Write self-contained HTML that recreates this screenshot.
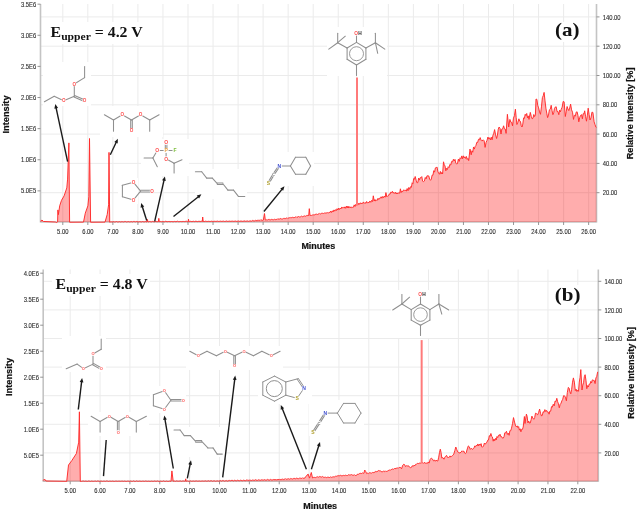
<!DOCTYPE html><html><head><meta charset="utf-8"><style>html,body{margin:0;padding:0;background:#fff;}body{width:637px;height:510px;overflow:hidden;}svg{display:block;filter:blur(0.3px);}</style></head><body>
<svg width="637" height="510" viewBox="0 0 637 510">
<rect width="637" height="510" fill="white"/>
<g stroke="#ebebeb" stroke-width="1.0"><line x1="62.80" y1="4.00" x2="62.80" y2="222.00"/><line x1="87.84" y1="4.00" x2="87.84" y2="222.00"/><line x1="112.88" y1="4.00" x2="112.88" y2="222.00"/><line x1="137.92" y1="4.00" x2="137.92" y2="222.00"/><line x1="162.96" y1="4.00" x2="162.96" y2="222.00"/><line x1="188.00" y1="4.00" x2="188.00" y2="222.00"/><line x1="213.04" y1="4.00" x2="213.04" y2="222.00"/><line x1="238.08" y1="4.00" x2="238.08" y2="222.00"/><line x1="263.12" y1="4.00" x2="263.12" y2="222.00"/><line x1="288.16" y1="4.00" x2="288.16" y2="222.00"/><line x1="313.20" y1="4.00" x2="313.20" y2="222.00"/><line x1="338.24" y1="4.00" x2="338.24" y2="222.00"/><line x1="363.28" y1="4.00" x2="363.28" y2="222.00"/><line x1="388.32" y1="4.00" x2="388.32" y2="222.00"/><line x1="413.36" y1="4.00" x2="413.36" y2="222.00"/><line x1="438.40" y1="4.00" x2="438.40" y2="222.00"/><line x1="463.44" y1="4.00" x2="463.44" y2="222.00"/><line x1="488.48" y1="4.00" x2="488.48" y2="222.00"/><line x1="513.52" y1="4.00" x2="513.52" y2="222.00"/><line x1="538.56" y1="4.00" x2="538.56" y2="222.00"/><line x1="563.60" y1="4.00" x2="563.60" y2="222.00"/><line x1="588.64" y1="4.00" x2="588.64" y2="222.00"/><line x1="40.50" y1="192.70" x2="596.50" y2="192.70"/><line x1="40.50" y1="163.40" x2="596.50" y2="163.40"/><line x1="40.50" y1="134.10" x2="596.50" y2="134.10"/><line x1="40.50" y1="104.80" x2="596.50" y2="104.80"/><line x1="40.50" y1="75.50" x2="596.50" y2="75.50"/><line x1="40.50" y1="46.20" x2="596.50" y2="46.20"/><line x1="40.50" y1="16.90" x2="596.50" y2="16.90"/></g>
<g stroke="#ebebeb" stroke-width="1.0"><line x1="70.20" y1="269.50" x2="70.20" y2="481.30"/><line x1="100.06" y1="269.50" x2="100.06" y2="481.30"/><line x1="129.92" y1="269.50" x2="129.92" y2="481.30"/><line x1="159.78" y1="269.50" x2="159.78" y2="481.30"/><line x1="189.64" y1="269.50" x2="189.64" y2="481.30"/><line x1="219.50" y1="269.50" x2="219.50" y2="481.30"/><line x1="249.36" y1="269.50" x2="249.36" y2="481.30"/><line x1="279.22" y1="269.50" x2="279.22" y2="481.30"/><line x1="309.08" y1="269.50" x2="309.08" y2="481.30"/><line x1="338.94" y1="269.50" x2="338.94" y2="481.30"/><line x1="368.80" y1="269.50" x2="368.80" y2="481.30"/><line x1="398.66" y1="269.50" x2="398.66" y2="481.30"/><line x1="428.52" y1="269.50" x2="428.52" y2="481.30"/><line x1="458.38" y1="269.50" x2="458.38" y2="481.30"/><line x1="488.24" y1="269.50" x2="488.24" y2="481.30"/><line x1="518.10" y1="269.50" x2="518.10" y2="481.30"/><line x1="547.96" y1="269.50" x2="547.96" y2="481.30"/><line x1="577.82" y1="269.50" x2="577.82" y2="481.30"/><line x1="43.20" y1="452.90" x2="598.30" y2="452.90"/><line x1="43.20" y1="424.30" x2="598.30" y2="424.30"/><line x1="43.20" y1="395.70" x2="598.30" y2="395.70"/><line x1="43.20" y1="367.10" x2="598.30" y2="367.10"/><line x1="43.20" y1="338.50" x2="598.30" y2="338.50"/><line x1="43.20" y1="309.90" x2="598.30" y2="309.90"/><line x1="43.20" y1="281.30" x2="598.30" y2="281.30"/></g>
<rect x="43.0" y="62.0" width="48.0" height="44.0" fill="white"/>
<rect x="100.0" y="106.0" width="63.0" height="31.0" fill="white"/>
<rect x="118.0" y="178.0" width="20.0" height="26.0" fill="white"/>
<rect x="141.0" y="139.0" width="48.0" height="37.0" fill="white"/>
<rect x="195.0" y="169.0" width="52.0" height="30.0" fill="white"/>
<rect x="264.0" y="152.0" width="50.0" height="34.0" fill="white"/>
<rect x="327.0" y="27.0" width="60.0" height="49.0" fill="white"/>
<rect x="48.0" y="22.0" width="96.0" height="22.0" fill="white"/>
<rect x="552.0" y="22.0" width="30.0" height="20.0" fill="white"/>
<rect x="62.0" y="336.0" width="44.0" height="36.0" fill="white"/>
<rect x="88.0" y="412.0" width="61.0" height="24.0" fill="white"/>
<rect x="150.0" y="386.0" width="36.0" height="27.0" fill="white"/>
<rect x="170.0" y="427.0" width="55.0" height="30.0" fill="white"/>
<rect x="186.0" y="346.0" width="97.0" height="24.0" fill="white"/>
<rect x="258.0" y="370.0" width="54.0" height="34.0" fill="white"/>
<rect x="309.0" y="400.0" width="55.0" height="36.0" fill="white"/>
<rect x="391.0" y="290.0" width="59.0" height="48.0" fill="white"/>
<rect x="52.0" y="274.0" width="98.0" height="22.0" fill="white"/>
<rect x="552.0" y="285.0" width="30.0" height="20.0" fill="white"/>
<g stroke="#c4c4c4" stroke-width="1.6"><line x1="40.50" y1="4.00" x2="40.50" y2="222.50"/><line x1="596.50" y1="4.00" x2="596.50" y2="222.50"/><line x1="40.50" y1="222.00" x2="596.50" y2="222.00"/></g><g stroke="#8a8a8a" stroke-width="0.9"><line x1="37.50" y1="190.88" x2="40.50" y2="190.88"/><line x1="37.50" y1="159.76" x2="40.50" y2="159.76"/><line x1="37.50" y1="128.64" x2="40.50" y2="128.64"/><line x1="37.50" y1="97.52" x2="40.50" y2="97.52"/><line x1="37.50" y1="66.40" x2="40.50" y2="66.40"/><line x1="37.50" y1="35.28" x2="40.50" y2="35.28"/><line x1="37.50" y1="4.16" x2="40.50" y2="4.16"/><line x1="596.50" y1="192.70" x2="599.50" y2="192.70"/><line x1="596.50" y1="163.40" x2="599.50" y2="163.40"/><line x1="596.50" y1="134.10" x2="599.50" y2="134.10"/><line x1="596.50" y1="104.80" x2="599.50" y2="104.80"/><line x1="596.50" y1="75.50" x2="599.50" y2="75.50"/><line x1="596.50" y1="46.20" x2="599.50" y2="46.20"/><line x1="596.50" y1="16.90" x2="599.50" y2="16.90"/><line x1="62.80" y1="222.00" x2="62.80" y2="225.00"/><line x1="87.84" y1="222.00" x2="87.84" y2="225.00"/><line x1="112.88" y1="222.00" x2="112.88" y2="225.00"/><line x1="137.92" y1="222.00" x2="137.92" y2="225.00"/><line x1="162.96" y1="222.00" x2="162.96" y2="225.00"/><line x1="188.00" y1="222.00" x2="188.00" y2="225.00"/><line x1="213.04" y1="222.00" x2="213.04" y2="225.00"/><line x1="238.08" y1="222.00" x2="238.08" y2="225.00"/><line x1="263.12" y1="222.00" x2="263.12" y2="225.00"/><line x1="288.16" y1="222.00" x2="288.16" y2="225.00"/><line x1="313.20" y1="222.00" x2="313.20" y2="225.00"/><line x1="338.24" y1="222.00" x2="338.24" y2="225.00"/><line x1="363.28" y1="222.00" x2="363.28" y2="225.00"/><line x1="388.32" y1="222.00" x2="388.32" y2="225.00"/><line x1="413.36" y1="222.00" x2="413.36" y2="225.00"/><line x1="438.40" y1="222.00" x2="438.40" y2="225.00"/><line x1="463.44" y1="222.00" x2="463.44" y2="225.00"/><line x1="488.48" y1="222.00" x2="488.48" y2="225.00"/><line x1="513.52" y1="222.00" x2="513.52" y2="225.00"/><line x1="538.56" y1="222.00" x2="538.56" y2="225.00"/><line x1="563.60" y1="222.00" x2="563.60" y2="225.00"/><line x1="588.64" y1="222.00" x2="588.64" y2="225.00"/></g><g font-family='"Liberation Sans", sans-serif' font-size="7.3" fill="#2e2e2e" stroke="#2e2e2e" stroke-width="0.12"><text transform="translate(36.20,193.48) scale(0.80,1)" text-anchor="end">5.0E5</text><text transform="translate(36.20,162.36) scale(0.80,1)" text-anchor="end">1.0E6</text><text transform="translate(36.20,131.24) scale(0.80,1)" text-anchor="end">1.5E6</text><text transform="translate(36.20,100.12) scale(0.80,1)" text-anchor="end">2.0E6</text><text transform="translate(36.20,69.00) scale(0.80,1)" text-anchor="end">2.5E6</text><text transform="translate(36.20,37.88) scale(0.80,1)" text-anchor="end">3.0E6</text><text transform="translate(36.20,6.76) scale(0.80,1)" text-anchor="end">3.5E6</text><text transform="translate(602.70,195.30) scale(0.80,1)">20.00</text><text transform="translate(602.70,166.00) scale(0.80,1)">40.00</text><text transform="translate(602.70,136.70) scale(0.80,1)">60.00</text><text transform="translate(602.70,107.40) scale(0.80,1)">80.00</text><text transform="translate(602.70,78.10) scale(0.80,1)">100.00</text><text transform="translate(602.70,48.80) scale(0.80,1)">120.00</text><text transform="translate(602.70,19.50) scale(0.80,1)">140.00</text><text transform="translate(62.80,233.60) scale(0.80,1)" text-anchor="middle">5.00</text><text transform="translate(87.84,233.60) scale(0.80,1)" text-anchor="middle">6.00</text><text transform="translate(112.88,233.60) scale(0.80,1)" text-anchor="middle">7.00</text><text transform="translate(137.92,233.60) scale(0.80,1)" text-anchor="middle">8.00</text><text transform="translate(162.96,233.60) scale(0.80,1)" text-anchor="middle">9.00</text><text transform="translate(188.00,233.60) scale(0.80,1)" text-anchor="middle">10.00</text><text transform="translate(213.04,233.60) scale(0.80,1)" text-anchor="middle">11.00</text><text transform="translate(238.08,233.60) scale(0.80,1)" text-anchor="middle">12.00</text><text transform="translate(263.12,233.60) scale(0.80,1)" text-anchor="middle">13.00</text><text transform="translate(288.16,233.60) scale(0.80,1)" text-anchor="middle">14.00</text><text transform="translate(313.20,233.60) scale(0.80,1)" text-anchor="middle">15.00</text><text transform="translate(338.24,233.60) scale(0.80,1)" text-anchor="middle">16.00</text><text transform="translate(363.28,233.60) scale(0.80,1)" text-anchor="middle">17.00</text><text transform="translate(388.32,233.60) scale(0.80,1)" text-anchor="middle">18.00</text><text transform="translate(413.36,233.60) scale(0.80,1)" text-anchor="middle">19.00</text><text transform="translate(438.40,233.60) scale(0.80,1)" text-anchor="middle">20.00</text><text transform="translate(463.44,233.60) scale(0.80,1)" text-anchor="middle">21.00</text><text transform="translate(488.48,233.60) scale(0.80,1)" text-anchor="middle">22.00</text><text transform="translate(513.52,233.60) scale(0.80,1)" text-anchor="middle">23.00</text><text transform="translate(538.56,233.60) scale(0.80,1)" text-anchor="middle">24.00</text><text transform="translate(563.60,233.60) scale(0.80,1)" text-anchor="middle">25.00</text><text transform="translate(588.64,233.60) scale(0.80,1)" text-anchor="middle">26.00</text></g>
<g stroke="#c4c4c4" stroke-width="1.6"><line x1="43.20" y1="269.50" x2="43.20" y2="481.80"/><line x1="598.30" y1="269.50" x2="598.30" y2="481.80"/><line x1="43.20" y1="481.30" x2="598.30" y2="481.30"/></g><g stroke="#8a8a8a" stroke-width="0.9"><line x1="40.20" y1="455.20" x2="43.20" y2="455.20"/><line x1="40.20" y1="429.20" x2="43.20" y2="429.20"/><line x1="40.20" y1="403.20" x2="43.20" y2="403.20"/><line x1="40.20" y1="377.20" x2="43.20" y2="377.20"/><line x1="40.20" y1="351.20" x2="43.20" y2="351.20"/><line x1="40.20" y1="325.20" x2="43.20" y2="325.20"/><line x1="40.20" y1="299.20" x2="43.20" y2="299.20"/><line x1="40.20" y1="273.20" x2="43.20" y2="273.20"/><line x1="598.30" y1="452.90" x2="601.30" y2="452.90"/><line x1="598.30" y1="424.30" x2="601.30" y2="424.30"/><line x1="598.30" y1="395.70" x2="601.30" y2="395.70"/><line x1="598.30" y1="367.10" x2="601.30" y2="367.10"/><line x1="598.30" y1="338.50" x2="601.30" y2="338.50"/><line x1="598.30" y1="309.90" x2="601.30" y2="309.90"/><line x1="598.30" y1="281.30" x2="601.30" y2="281.30"/><line x1="70.20" y1="481.30" x2="70.20" y2="484.30"/><line x1="100.06" y1="481.30" x2="100.06" y2="484.30"/><line x1="129.92" y1="481.30" x2="129.92" y2="484.30"/><line x1="159.78" y1="481.30" x2="159.78" y2="484.30"/><line x1="189.64" y1="481.30" x2="189.64" y2="484.30"/><line x1="219.50" y1="481.30" x2="219.50" y2="484.30"/><line x1="249.36" y1="481.30" x2="249.36" y2="484.30"/><line x1="279.22" y1="481.30" x2="279.22" y2="484.30"/><line x1="309.08" y1="481.30" x2="309.08" y2="484.30"/><line x1="338.94" y1="481.30" x2="338.94" y2="484.30"/><line x1="368.80" y1="481.30" x2="368.80" y2="484.30"/><line x1="398.66" y1="481.30" x2="398.66" y2="484.30"/><line x1="428.52" y1="481.30" x2="428.52" y2="484.30"/><line x1="458.38" y1="481.30" x2="458.38" y2="484.30"/><line x1="488.24" y1="481.30" x2="488.24" y2="484.30"/><line x1="518.10" y1="481.30" x2="518.10" y2="484.30"/><line x1="547.96" y1="481.30" x2="547.96" y2="484.30"/><line x1="577.82" y1="481.30" x2="577.82" y2="484.30"/></g><g font-family='"Liberation Sans", sans-serif' font-size="7.3" fill="#2e2e2e" stroke="#2e2e2e" stroke-width="0.12"><text transform="translate(38.90,457.80) scale(0.80,1)" text-anchor="end">5.0E5</text><text transform="translate(38.90,431.80) scale(0.80,1)" text-anchor="end">1.0E6</text><text transform="translate(38.90,405.80) scale(0.80,1)" text-anchor="end">1.5E6</text><text transform="translate(38.90,379.80) scale(0.80,1)" text-anchor="end">2.0E6</text><text transform="translate(38.90,353.80) scale(0.80,1)" text-anchor="end">2.5E6</text><text transform="translate(38.90,327.80) scale(0.80,1)" text-anchor="end">3.0E6</text><text transform="translate(38.90,301.80) scale(0.80,1)" text-anchor="end">3.5E6</text><text transform="translate(38.90,275.80) scale(0.80,1)" text-anchor="end">4.0E6</text><text transform="translate(604.50,455.50) scale(0.80,1)">20.00</text><text transform="translate(604.50,426.90) scale(0.80,1)">40.00</text><text transform="translate(604.50,398.30) scale(0.80,1)">60.00</text><text transform="translate(604.50,369.70) scale(0.80,1)">80.00</text><text transform="translate(604.50,341.10) scale(0.80,1)">100.00</text><text transform="translate(604.50,312.50) scale(0.80,1)">120.00</text><text transform="translate(604.50,283.90) scale(0.80,1)">140.00</text><text transform="translate(70.20,492.90) scale(0.80,1)" text-anchor="middle">5.00</text><text transform="translate(100.06,492.90) scale(0.80,1)" text-anchor="middle">6.00</text><text transform="translate(129.92,492.90) scale(0.80,1)" text-anchor="middle">7.00</text><text transform="translate(159.78,492.90) scale(0.80,1)" text-anchor="middle">8.00</text><text transform="translate(189.64,492.90) scale(0.80,1)" text-anchor="middle">9.00</text><text transform="translate(219.50,492.90) scale(0.80,1)" text-anchor="middle">10.00</text><text transform="translate(249.36,492.90) scale(0.80,1)" text-anchor="middle">11.00</text><text transform="translate(279.22,492.90) scale(0.80,1)" text-anchor="middle">12.00</text><text transform="translate(309.08,492.90) scale(0.80,1)" text-anchor="middle">13.00</text><text transform="translate(338.94,492.90) scale(0.80,1)" text-anchor="middle">14.00</text><text transform="translate(368.80,492.90) scale(0.80,1)" text-anchor="middle">15.00</text><text transform="translate(398.66,492.90) scale(0.80,1)" text-anchor="middle">16.00</text><text transform="translate(428.52,492.90) scale(0.80,1)" text-anchor="middle">17.00</text><text transform="translate(458.38,492.90) scale(0.80,1)" text-anchor="middle">18.00</text><text transform="translate(488.24,492.90) scale(0.80,1)" text-anchor="middle">19.00</text><text transform="translate(518.10,492.90) scale(0.80,1)" text-anchor="middle">20.00</text><text transform="translate(547.96,492.90) scale(0.80,1)" text-anchor="middle">21.00</text><text transform="translate(577.82,492.90) scale(0.80,1)" text-anchor="middle">22.00</text></g>
<path d="M40.50,222.00 L40.50,221.17 L42.00,220.02 L43.50,221.48 L55.30,222.00 L56.50,222.53 L57.60,221.90 L57.90,209.91 L58.40,214.60 L59.70,205.84 L61.50,200.31 L64.10,195.90 L66.80,187.90 L67.60,179.10 L68.20,161.50 L68.90,142.90 L69.60,222.21 L83.50,222.11 L85.30,213.14 L87.90,205.84 L88.80,196.80 L89.50,138.50 L90.60,222.21 L105.00,222.11 L107.20,214.60 L108.60,204.80 L109.00,152.40 L109.70,222.21 L110.50,221.90 L111.26,221.94 L112.02,221.63 L112.78,221.95 L113.54,221.61 L114.30,221.98 L115.06,221.75 L115.82,221.91 L116.58,221.54 L117.34,221.93 L118.10,221.70 L118.86,222.00 L119.62,221.63 L120.39,221.98 L121.15,221.62 L121.91,221.95 L122.67,221.71 L123.43,221.95 L124.19,221.51 L124.95,221.93 L125.71,221.54 L126.47,221.95 L127.23,221.72 L127.99,221.95 L128.75,221.57 L129.51,221.90 L130.27,221.72 L131.03,221.95 L131.79,221.59 L132.55,221.93 L133.31,221.48 L134.07,221.93 L134.83,221.46 L135.59,221.89 L136.35,221.49 L137.11,221.89 L137.88,221.45 L138.64,221.93 L139.40,221.67 L140.16,221.85 L140.92,221.64 L141.68,221.93 L142.44,221.57 L143.20,221.89 L143.96,221.60 L144.72,221.88 L145.48,221.58 L146.24,221.86 L147.00,221.80 L147.40,219.40 L147.90,221.80 L148.65,221.87 L149.40,221.50 L150.15,221.89 L150.90,221.46 L151.65,221.88 L152.40,221.40 L153.15,221.87 L153.90,221.44 L154.65,221.77 L155.40,221.37 L156.15,221.84 L156.90,221.34 L157.65,221.78 L158.40,221.69 L158.80,218.35 L159.30,221.69 L160.06,221.78 L160.82,221.51 L161.58,221.79 L162.34,221.41 L163.10,221.73 L163.86,221.54 L164.62,221.78 L165.38,221.28 L166.14,221.70 L166.91,221.33 L167.67,221.72 L168.43,221.50 L169.19,221.71 L169.95,221.33 L170.71,221.76 L171.47,221.52 L172.23,221.73 L172.99,221.51 L173.75,221.74 L174.51,221.43 L175.27,221.75 L176.03,221.25 L176.79,221.70 L177.55,221.23 L178.31,221.68 L179.07,221.48 L179.83,221.70 L180.59,221.49 L181.36,221.65 L182.12,221.38 L182.88,221.69 L183.64,221.44 L184.40,221.63 L185.16,221.24 L185.92,221.65 L186.68,221.21 L187.44,221.70 L188.20,221.59 L188.50,219.19 L188.90,221.59 L189.69,221.64 L190.48,221.33 L191.26,221.64 L192.05,221.27 L192.84,221.64 L193.63,221.28 L194.42,221.63 L195.21,221.16 L195.99,221.61 L196.78,221.29 L197.57,221.62 L198.36,221.33 L199.15,221.56 L199.94,221.12 L200.72,221.57 L201.51,221.22 L202.30,221.48 L202.70,217.00 L203.20,221.48 L203.95,221.36 L204.71,221.54 L205.46,221.19 L206.22,221.49 L206.97,221.17 L207.73,221.54 L208.48,221.31 L209.24,221.53 L209.99,221.19 L210.75,221.52 L211.50,221.21 L212.26,221.52 L213.01,221.10 L213.77,221.44 L214.52,221.27 L215.28,221.49 L216.03,221.02 L216.79,221.44 L217.54,221.14 L218.30,221.46 L219.05,221.17 L219.81,221.43 L220.56,221.16 L221.32,221.42 L222.07,221.08 L222.83,221.40 L223.58,221.13 L224.34,221.44 L225.09,221.21 L225.85,221.41 L226.60,221.01 L227.35,221.37 L228.11,221.14 L228.86,221.42 L229.62,221.12 L230.37,221.34 L231.13,221.06 L231.88,221.38 L232.64,221.14 L233.39,221.34 L234.15,221.07 L234.90,221.38 L235.66,221.03 L236.41,221.37 L237.17,221.09 L237.92,221.31 L238.68,220.95 L239.43,221.35 L240.19,220.99 L240.94,221.27 L241.70,221.08 L242.45,221.30 L243.21,221.05 L243.96,221.32 L244.72,220.86 L245.47,221.24 L246.23,221.00 L246.98,221.30 L247.74,220.89 L248.49,221.29 L249.25,220.96 L250.00,221.17 L250.78,220.83 L251.56,221.14 L252.35,220.38 L253.13,221.01 L253.91,220.48 L254.69,220.92 L255.48,220.32 L256.26,220.79 L257.04,219.95 L257.82,220.62 L258.61,220.28 L259.39,220.65 L260.17,219.73 L260.95,220.53 L261.74,219.82 L262.52,220.40 L263.30,220.13 L264.50,213.56 L265.30,220.02 L266.06,220.20 L266.82,219.63 L267.58,220.10 L268.34,219.26 L269.10,220.01 L269.86,219.35 L270.62,219.87 L271.38,219.37 L272.14,219.79 L272.90,219.43 L273.66,219.79 L274.42,219.25 L275.18,219.76 L275.94,219.30 L276.70,219.50 L277.45,218.76 L278.20,219.50 L278.95,218.58 L279.70,219.37 L280.45,218.42 L281.20,219.14 L281.95,218.69 L282.70,219.00 L283.45,218.44 L284.20,218.75 L284.95,218.03 L285.70,218.62 L286.45,217.98 L287.20,218.53 L287.95,217.72 L288.70,218.15 L289.45,217.68 L290.20,218.06 L290.95,217.26 L291.70,217.93 L292.45,217.13 L293.20,217.74 L293.95,217.24 L294.70,217.61 L295.45,216.77 L296.20,217.37 L296.95,216.61 L297.70,217.34 L298.45,216.44 L299.20,217.15 L299.95,216.66 L300.70,216.79 L301.50,216.15 L302.30,216.76 L303.10,216.21 L303.90,216.42 L304.70,215.87 L305.50,216.24 L306.30,215.57 L307.10,216.00 L307.90,215.16 L308.70,215.64 L309.30,208.66 L310.00,215.64 L310.75,215.30 L311.50,215.43 L312.25,214.98 L313.00,215.18 L313.75,214.75 L314.50,215.08 L315.25,214.10 L316.00,214.65 L316.75,214.01 L317.50,214.44 L318.25,213.84 L319.00,214.18 L319.75,213.42 L320.50,213.97 L321.25,213.30 L322.00,213.56 L322.80,213.16 L323.60,213.47 L324.40,213.00 L325.20,213.32 L326.00,212.52 L326.80,213.10 L327.60,212.65 L328.40,212.88 L329.20,212.32 L330.00,212.62 L330.79,211.09 L331.57,212.50 L332.36,210.78 L333.15,211.93 L333.94,209.92 L334.73,211.19 L335.51,209.65 L336.30,210.64 L337.09,208.67 L337.88,210.04 L338.66,208.11 L339.45,209.48 L340.24,208.08 L341.03,208.94 L341.81,206.96 L342.60,208.03 L343.37,207.37 L344.14,208.20 L344.91,206.83 L345.68,208.30 L346.45,206.11 L347.22,207.96 L347.98,206.04 L348.75,208.04 L349.52,206.69 L350.29,207.77 L351.06,206.75 L351.83,207.82 L352.60,207.30 L353.40,207.28 L354.20,204.88 L355.00,206.50 L355.80,204.31 L356.60,205.21 L357.30,204.69 L358.07,204.94 L358.84,203.14 L359.61,204.30 L360.39,202.75 L361.16,203.89 L361.93,202.93 L362.70,203.44 L363.49,201.91 L364.27,203.40 L365.06,202.58 L365.85,203.27 L366.64,201.47 L367.43,203.15 L368.21,202.35 L369.00,202.82 L369.90,200.97 L370.80,202.34 L371.70,200.34 L372.60,201.56 L373.30,195.80 L374.20,201.04 L374.97,199.46 L375.73,200.96 L376.50,200.21 L377.26,200.34 L378.02,198.28 L378.78,199.50 L379.54,198.14 L380.30,198.30 L381.12,196.74 L381.93,198.25 L382.75,196.43 L383.57,197.70 L384.38,196.02 L385.20,197.20 L385.90,192.60 L386.80,196.80 L387.80,195.80 L388.56,195.66 L389.32,193.95 L390.08,194.11 L390.84,192.09 L391.60,192.60 L392.38,191.31 L393.15,193.12 L393.93,192.38 L394.70,193.45 L395.48,192.21 L396.25,193.99 L397.03,192.79 L397.80,193.90 L398.75,192.63 L399.70,193.20 L400.40,188.80 L401.20,192.50 L401.96,191.03 L402.72,191.70 L403.48,189.96 L404.24,190.54 L405.00,189.90 L406.30,191.10 L407.15,188.52 L408.00,190.77 L408.85,187.43 L409.70,189.32 L410.55,186.70 L411.40,187.30 L412.16,182.79 L412.92,183.74 L413.68,178.50 L414.44,179.23 L415.20,176.50 L416.15,180.25 L417.10,182.90 L417.86,182.55 L418.62,178.08 L419.38,180.12 L420.14,177.72 L420.90,177.80 L421.77,176.60 L422.63,181.23 L423.50,181.60 L424.38,181.03 L425.26,177.49 L426.14,178.92 L427.02,175.75 L427.90,175.90 L428.77,175.91 L429.63,179.15 L430.50,180.30 L431.31,179.11 L432.13,175.11 L432.94,175.20 L433.76,170.69 L434.57,172.15 L435.39,167.89 L436.20,167.60 L437.07,167.12 L437.93,171.89 L438.80,173.30 L439.56,174.26 L440.32,171.41 L441.08,174.03 L441.84,172.42 L442.60,173.90 L443.50,161.80 L444.27,164.98 L445.03,165.89 L445.80,170.80 L446.60,168.30 L447.40,169.50 L448.20,166.74 L449.00,167.60 L449.88,164.36 L450.76,165.06 L451.64,161.42 L452.52,161.91 L453.40,159.30 L454.20,160.97 L455.00,159.39 L455.80,163.21 L456.60,163.80 L457.48,163.61 L458.36,159.13 L459.24,161.35 L460.12,157.81 L461.00,158.70 L461.78,155.91 L462.56,158.79 L463.34,155.82 L464.12,157.93 L464.90,156.80 L465.66,158.49 L466.42,156.44 L467.18,159.42 L467.94,158.45 L468.70,160.60 L470.00,149.10 L471.20,154.80 L471.98,150.75 L472.76,152.22 L473.54,146.97 L474.32,149.08 L475.10,146.60 L475.95,145.45 L476.80,142.30 L477.65,142.47 L478.50,139.31 L479.35,139.82 L480.20,137.60 L481.05,140.20 L481.90,141.10 L483.20,139.80 L484.15,140.81 L485.10,147.40 L486.05,142.46 L487.00,140.40 L487.95,137.03 L488.90,139.10 L489.70,137.72 L490.50,139.95 L491.30,137.19 L492.10,139.80 L492.93,135.32 L493.77,133.23 L494.60,129.60 L495.60,134.88 L496.60,138.50 L497.43,135.06 L498.27,129.18 L499.10,127.00 L500.05,128.38 L501.00,134.00 L501.87,128.95 L502.73,128.70 L503.60,125.80 L504.43,128.76 L505.27,129.05 L506.10,133.40 L507.40,114.30 L508.70,127.00 L509.90,119.40 L510.77,122.08 L511.63,122.33 L512.50,125.80 L513.47,118.14 L514.43,115.66 L515.40,109.20 L516.15,117.32 L516.90,124.50 L517.90,122.25 L518.90,118.80 L519.67,121.11 L520.45,121.42 L521.23,125.64 L522.00,127.00 L522.80,124.08 L523.60,117.89 L524.40,118.36 L525.20,114.30 L525.96,115.56 L526.72,113.46 L527.48,117.82 L528.24,115.86 L529.00,119.40 L530.30,112.40 L531.25,116.37 L532.20,118.80 L533.00,118.22 L533.80,114.53 L534.60,116.56 L535.40,114.90 L536.00,99.00 L536.87,99.37 L537.73,105.31 L538.60,107.90 L539.55,111.86 L540.50,114.30 L541.45,106.88 L542.40,97.60 L543.25,95.70 L544.10,92.40 L545.00,100.89 L545.90,108.20 L546.75,113.15 L547.60,117.60 L548.50,115.08 L549.40,109.81 L550.30,109.11 L551.20,105.30 L552.05,110.70 L552.90,114.70 L553.70,112.78 L554.50,108.35 L555.30,107.10 L556.17,106.74 L557.05,111.56 L557.92,111.52 L558.80,114.70 L559.60,110.16 L560.40,111.85 L561.20,109.40 L562.17,107.13 L563.13,101.48 L564.10,101.80 L565.30,116.50 L566.20,111.77 L567.10,106.50 L567.95,108.98 L568.80,110.60 L569.70,108.09 L570.60,104.10 L571.57,109.84 L572.53,112.23 L573.50,119.40 L574.40,115.24 L575.30,116.13 L576.20,112.14 L577.10,111.80 L577.95,115.53 L578.80,121.80 L579.70,117.51 L580.60,115.30 L581.50,114.65 L582.40,118.80 L583.17,113.65 L583.93,114.06 L584.70,110.80 L585.60,116.75 L586.50,121.20 L587.35,115.15 L588.20,108.20 L589.10,114.47 L590.00,120.00 L590.97,117.93 L591.93,112.20 L592.90,112.40 L594.10,121.80 L595.00,124.64 L595.90,127.10 L596.40,127.50 L596.40,222.00 Z" fill="rgba(255,0,0,0.32)" stroke="none"/><path d="M40.50,221.17 L42.00,220.02 L43.50,221.48 L55.30,222.00 L56.50,222.53 L57.60,221.90 L57.90,209.91 L58.40,214.60 L59.70,205.84 L61.50,200.31 L64.10,195.90 L66.80,187.90 L67.60,179.10 L68.20,161.50 L68.90,142.90 L69.60,222.21 L83.50,222.11 L85.30,213.14 L87.90,205.84 L88.80,196.80 L89.50,138.50 L90.60,222.21 L105.00,222.11 L107.20,214.60 L108.60,204.80 L109.00,152.40 L109.70,222.21 L110.50,221.90 L111.26,221.94 L112.02,221.63 L112.78,221.95 L113.54,221.61 L114.30,221.98 L115.06,221.75 L115.82,221.91 L116.58,221.54 L117.34,221.93 L118.10,221.70 L118.86,222.00 L119.62,221.63 L120.39,221.98 L121.15,221.62 L121.91,221.95 L122.67,221.71 L123.43,221.95 L124.19,221.51 L124.95,221.93 L125.71,221.54 L126.47,221.95 L127.23,221.72 L127.99,221.95 L128.75,221.57 L129.51,221.90 L130.27,221.72 L131.03,221.95 L131.79,221.59 L132.55,221.93 L133.31,221.48 L134.07,221.93 L134.83,221.46 L135.59,221.89 L136.35,221.49 L137.11,221.89 L137.88,221.45 L138.64,221.93 L139.40,221.67 L140.16,221.85 L140.92,221.64 L141.68,221.93 L142.44,221.57 L143.20,221.89 L143.96,221.60 L144.72,221.88 L145.48,221.58 L146.24,221.86 L147.00,221.80 L147.40,219.40 L147.90,221.80 L148.65,221.87 L149.40,221.50 L150.15,221.89 L150.90,221.46 L151.65,221.88 L152.40,221.40 L153.15,221.87 L153.90,221.44 L154.65,221.77 L155.40,221.37 L156.15,221.84 L156.90,221.34 L157.65,221.78 L158.40,221.69 L158.80,218.35 L159.30,221.69 L160.06,221.78 L160.82,221.51 L161.58,221.79 L162.34,221.41 L163.10,221.73 L163.86,221.54 L164.62,221.78 L165.38,221.28 L166.14,221.70 L166.91,221.33 L167.67,221.72 L168.43,221.50 L169.19,221.71 L169.95,221.33 L170.71,221.76 L171.47,221.52 L172.23,221.73 L172.99,221.51 L173.75,221.74 L174.51,221.43 L175.27,221.75 L176.03,221.25 L176.79,221.70 L177.55,221.23 L178.31,221.68 L179.07,221.48 L179.83,221.70 L180.59,221.49 L181.36,221.65 L182.12,221.38 L182.88,221.69 L183.64,221.44 L184.40,221.63 L185.16,221.24 L185.92,221.65 L186.68,221.21 L187.44,221.70 L188.20,221.59 L188.50,219.19 L188.90,221.59 L189.69,221.64 L190.48,221.33 L191.26,221.64 L192.05,221.27 L192.84,221.64 L193.63,221.28 L194.42,221.63 L195.21,221.16 L195.99,221.61 L196.78,221.29 L197.57,221.62 L198.36,221.33 L199.15,221.56 L199.94,221.12 L200.72,221.57 L201.51,221.22 L202.30,221.48 L202.70,217.00 L203.20,221.48 L203.95,221.36 L204.71,221.54 L205.46,221.19 L206.22,221.49 L206.97,221.17 L207.73,221.54 L208.48,221.31 L209.24,221.53 L209.99,221.19 L210.75,221.52 L211.50,221.21 L212.26,221.52 L213.01,221.10 L213.77,221.44 L214.52,221.27 L215.28,221.49 L216.03,221.02 L216.79,221.44 L217.54,221.14 L218.30,221.46 L219.05,221.17 L219.81,221.43 L220.56,221.16 L221.32,221.42 L222.07,221.08 L222.83,221.40 L223.58,221.13 L224.34,221.44 L225.09,221.21 L225.85,221.41 L226.60,221.01 L227.35,221.37 L228.11,221.14 L228.86,221.42 L229.62,221.12 L230.37,221.34 L231.13,221.06 L231.88,221.38 L232.64,221.14 L233.39,221.34 L234.15,221.07 L234.90,221.38 L235.66,221.03 L236.41,221.37 L237.17,221.09 L237.92,221.31 L238.68,220.95 L239.43,221.35 L240.19,220.99 L240.94,221.27 L241.70,221.08 L242.45,221.30 L243.21,221.05 L243.96,221.32 L244.72,220.86 L245.47,221.24 L246.23,221.00 L246.98,221.30 L247.74,220.89 L248.49,221.29 L249.25,220.96 L250.00,221.17 L250.78,220.83 L251.56,221.14 L252.35,220.38 L253.13,221.01 L253.91,220.48 L254.69,220.92 L255.48,220.32 L256.26,220.79 L257.04,219.95 L257.82,220.62 L258.61,220.28 L259.39,220.65 L260.17,219.73 L260.95,220.53 L261.74,219.82 L262.52,220.40 L263.30,220.13 L264.50,213.56 L265.30,220.02 L266.06,220.20 L266.82,219.63 L267.58,220.10 L268.34,219.26 L269.10,220.01 L269.86,219.35 L270.62,219.87 L271.38,219.37 L272.14,219.79 L272.90,219.43 L273.66,219.79 L274.42,219.25 L275.18,219.76 L275.94,219.30 L276.70,219.50 L277.45,218.76 L278.20,219.50 L278.95,218.58 L279.70,219.37 L280.45,218.42 L281.20,219.14 L281.95,218.69 L282.70,219.00 L283.45,218.44 L284.20,218.75 L284.95,218.03 L285.70,218.62 L286.45,217.98 L287.20,218.53 L287.95,217.72 L288.70,218.15 L289.45,217.68 L290.20,218.06 L290.95,217.26 L291.70,217.93 L292.45,217.13 L293.20,217.74 L293.95,217.24 L294.70,217.61 L295.45,216.77 L296.20,217.37 L296.95,216.61 L297.70,217.34 L298.45,216.44 L299.20,217.15 L299.95,216.66 L300.70,216.79 L301.50,216.15 L302.30,216.76 L303.10,216.21 L303.90,216.42 L304.70,215.87 L305.50,216.24 L306.30,215.57 L307.10,216.00 L307.90,215.16 L308.70,215.64 L309.30,208.66 L310.00,215.64 L310.75,215.30 L311.50,215.43 L312.25,214.98 L313.00,215.18 L313.75,214.75 L314.50,215.08 L315.25,214.10 L316.00,214.65 L316.75,214.01 L317.50,214.44 L318.25,213.84 L319.00,214.18 L319.75,213.42 L320.50,213.97 L321.25,213.30 L322.00,213.56 L322.80,213.16 L323.60,213.47 L324.40,213.00 L325.20,213.32 L326.00,212.52 L326.80,213.10 L327.60,212.65 L328.40,212.88 L329.20,212.32 L330.00,212.62 L330.79,211.09 L331.57,212.50 L332.36,210.78 L333.15,211.93 L333.94,209.92 L334.73,211.19 L335.51,209.65 L336.30,210.64 L337.09,208.67 L337.88,210.04 L338.66,208.11 L339.45,209.48 L340.24,208.08 L341.03,208.94 L341.81,206.96 L342.60,208.03 L343.37,207.37 L344.14,208.20 L344.91,206.83 L345.68,208.30 L346.45,206.11 L347.22,207.96 L347.98,206.04 L348.75,208.04 L349.52,206.69 L350.29,207.77 L351.06,206.75 L351.83,207.82 L352.60,207.30 L353.40,207.28 L354.20,204.88 L355.00,206.50 L355.80,204.31 L356.60,205.21 L357.30,204.69 L358.07,204.94 L358.84,203.14 L359.61,204.30 L360.39,202.75 L361.16,203.89 L361.93,202.93 L362.70,203.44 L363.49,201.91 L364.27,203.40 L365.06,202.58 L365.85,203.27 L366.64,201.47 L367.43,203.15 L368.21,202.35 L369.00,202.82 L369.90,200.97 L370.80,202.34 L371.70,200.34 L372.60,201.56 L373.30,195.80 L374.20,201.04 L374.97,199.46 L375.73,200.96 L376.50,200.21 L377.26,200.34 L378.02,198.28 L378.78,199.50 L379.54,198.14 L380.30,198.30 L381.12,196.74 L381.93,198.25 L382.75,196.43 L383.57,197.70 L384.38,196.02 L385.20,197.20 L385.90,192.60 L386.80,196.80 L387.80,195.80 L388.56,195.66 L389.32,193.95 L390.08,194.11 L390.84,192.09 L391.60,192.60 L392.38,191.31 L393.15,193.12 L393.93,192.38 L394.70,193.45 L395.48,192.21 L396.25,193.99 L397.03,192.79 L397.80,193.90 L398.75,192.63 L399.70,193.20 L400.40,188.80 L401.20,192.50 L401.96,191.03 L402.72,191.70 L403.48,189.96 L404.24,190.54 L405.00,189.90 L406.30,191.10 L407.15,188.52 L408.00,190.77 L408.85,187.43 L409.70,189.32 L410.55,186.70 L411.40,187.30 L412.16,182.79 L412.92,183.74 L413.68,178.50 L414.44,179.23 L415.20,176.50 L416.15,180.25 L417.10,182.90 L417.86,182.55 L418.62,178.08 L419.38,180.12 L420.14,177.72 L420.90,177.80 L421.77,176.60 L422.63,181.23 L423.50,181.60 L424.38,181.03 L425.26,177.49 L426.14,178.92 L427.02,175.75 L427.90,175.90 L428.77,175.91 L429.63,179.15 L430.50,180.30 L431.31,179.11 L432.13,175.11 L432.94,175.20 L433.76,170.69 L434.57,172.15 L435.39,167.89 L436.20,167.60 L437.07,167.12 L437.93,171.89 L438.80,173.30 L439.56,174.26 L440.32,171.41 L441.08,174.03 L441.84,172.42 L442.60,173.90 L443.50,161.80 L444.27,164.98 L445.03,165.89 L445.80,170.80 L446.60,168.30 L447.40,169.50 L448.20,166.74 L449.00,167.60 L449.88,164.36 L450.76,165.06 L451.64,161.42 L452.52,161.91 L453.40,159.30 L454.20,160.97 L455.00,159.39 L455.80,163.21 L456.60,163.80 L457.48,163.61 L458.36,159.13 L459.24,161.35 L460.12,157.81 L461.00,158.70 L461.78,155.91 L462.56,158.79 L463.34,155.82 L464.12,157.93 L464.90,156.80 L465.66,158.49 L466.42,156.44 L467.18,159.42 L467.94,158.45 L468.70,160.60 L470.00,149.10 L471.20,154.80 L471.98,150.75 L472.76,152.22 L473.54,146.97 L474.32,149.08 L475.10,146.60 L475.95,145.45 L476.80,142.30 L477.65,142.47 L478.50,139.31 L479.35,139.82 L480.20,137.60 L481.05,140.20 L481.90,141.10 L483.20,139.80 L484.15,140.81 L485.10,147.40 L486.05,142.46 L487.00,140.40 L487.95,137.03 L488.90,139.10 L489.70,137.72 L490.50,139.95 L491.30,137.19 L492.10,139.80 L492.93,135.32 L493.77,133.23 L494.60,129.60 L495.60,134.88 L496.60,138.50 L497.43,135.06 L498.27,129.18 L499.10,127.00 L500.05,128.38 L501.00,134.00 L501.87,128.95 L502.73,128.70 L503.60,125.80 L504.43,128.76 L505.27,129.05 L506.10,133.40 L507.40,114.30 L508.70,127.00 L509.90,119.40 L510.77,122.08 L511.63,122.33 L512.50,125.80 L513.47,118.14 L514.43,115.66 L515.40,109.20 L516.15,117.32 L516.90,124.50 L517.90,122.25 L518.90,118.80 L519.67,121.11 L520.45,121.42 L521.23,125.64 L522.00,127.00 L522.80,124.08 L523.60,117.89 L524.40,118.36 L525.20,114.30 L525.96,115.56 L526.72,113.46 L527.48,117.82 L528.24,115.86 L529.00,119.40 L530.30,112.40 L531.25,116.37 L532.20,118.80 L533.00,118.22 L533.80,114.53 L534.60,116.56 L535.40,114.90 L536.00,99.00 L536.87,99.37 L537.73,105.31 L538.60,107.90 L539.55,111.86 L540.50,114.30 L541.45,106.88 L542.40,97.60 L543.25,95.70 L544.10,92.40 L545.00,100.89 L545.90,108.20 L546.75,113.15 L547.60,117.60 L548.50,115.08 L549.40,109.81 L550.30,109.11 L551.20,105.30 L552.05,110.70 L552.90,114.70 L553.70,112.78 L554.50,108.35 L555.30,107.10 L556.17,106.74 L557.05,111.56 L557.92,111.52 L558.80,114.70 L559.60,110.16 L560.40,111.85 L561.20,109.40 L562.17,107.13 L563.13,101.48 L564.10,101.80 L565.30,116.50 L566.20,111.77 L567.10,106.50 L567.95,108.98 L568.80,110.60 L569.70,108.09 L570.60,104.10 L571.57,109.84 L572.53,112.23 L573.50,119.40 L574.40,115.24 L575.30,116.13 L576.20,112.14 L577.10,111.80 L577.95,115.53 L578.80,121.80 L579.70,117.51 L580.60,115.30 L581.50,114.65 L582.40,118.80 L583.17,113.65 L583.93,114.06 L584.70,110.80 L585.60,116.75 L586.50,121.20 L587.35,115.15 L588.20,108.20 L589.10,114.47 L590.00,120.00 L590.97,117.93 L591.93,112.20 L592.90,112.40 L594.10,121.80 L595.00,124.64 L595.90,127.10 L596.40,127.50" fill="none" stroke="#ff2a2a" stroke-width="0.95" stroke-linejoin="round"/>
<path d="M43.20,481.30 L43.20,480.48 L44.50,479.04 L46.00,480.99 L66.50,481.30 L66.70,481.51 L68.50,465.07 L71.90,460.44 L76.40,453.50 L78.70,442.20 L79.40,411.80 L80.30,481.51 L80.80,481.30 L81.55,481.37 L82.30,481.08 L83.05,481.33 L83.81,480.95 L84.56,481.32 L85.31,481.05 L86.06,481.41 L86.81,481.16 L87.56,481.38 L88.32,481.02 L89.07,481.32 L89.82,481.08 L90.57,481.39 L91.32,481.06 L92.08,481.40 L92.83,481.14 L93.58,481.34 L94.33,481.15 L95.08,481.37 L95.83,480.94 L96.58,481.38 L97.34,480.98 L98.09,481.36 L98.84,480.98 L99.59,481.33 L100.34,481.11 L101.09,481.39 L101.85,480.99 L102.60,481.36 L103.35,481.16 L104.10,481.35 L104.85,481.13 L105.61,481.35 L106.36,480.97 L107.11,481.34 L107.86,480.95 L108.61,481.41 L109.36,481.17 L110.11,481.36 L110.87,481.05 L111.62,481.32 L112.37,481.07 L113.12,481.41 L113.87,481.15 L114.62,481.38 L115.38,481.15 L116.13,481.38 L116.88,480.94 L117.63,481.34 L118.38,481.18 L119.13,481.33 L119.89,481.04 L120.64,481.32 L121.39,481.16 L122.14,481.37 L122.89,480.94 L123.64,481.36 L124.40,481.08 L125.15,481.39 L125.90,481.16 L126.65,481.38 L127.40,481.14 L128.16,481.38 L128.91,480.93 L129.66,481.33 L130.41,481.03 L131.16,481.38 L131.91,481.14 L132.66,481.35 L133.42,480.92 L134.17,481.42 L134.92,481.15 L135.67,481.39 L136.42,480.93 L137.18,481.34 L137.93,481.02 L138.68,481.32 L139.43,481.09 L140.18,481.39 L140.93,481.03 L141.69,481.40 L142.44,481.16 L143.19,481.36 L143.94,480.95 L144.69,481.38 L145.44,481.06 L146.19,481.36 L146.95,480.92 L147.70,481.38 L148.45,481.18 L149.20,481.40 L149.95,481.10 L150.70,481.37 L151.46,481.13 L152.21,481.37 L152.96,481.10 L153.71,481.33 L154.46,481.01 L155.21,481.33 L155.97,480.97 L156.72,481.32 L157.47,480.97 L158.22,481.40 L158.97,481.05 L159.72,481.39 L160.48,481.12 L161.23,481.40 L161.98,481.07 L162.73,481.34 L163.48,480.92 L164.24,481.36 L164.99,481.08 L165.74,481.41 L166.49,481.08 L167.24,481.39 L167.99,481.14 L168.75,481.41 L169.50,481.11 L170.25,481.33 L171.00,481.30 L171.90,470.92 L173.20,481.20 L173.96,481.32 L174.71,481.04 L175.47,481.32 L176.22,480.82 L176.98,481.28 L177.74,481.08 L178.49,481.22 L179.25,481.03 L180.01,481.26 L180.76,480.92 L181.52,481.32 L182.28,480.99 L183.03,481.23 L183.79,480.93 L184.54,481.23 L185.30,481.20 L185.70,478.83 L186.10,481.20 L186.85,481.22 L187.61,480.93 L188.36,481.28 L189.11,481.05 L189.87,481.25 L190.62,480.88 L191.37,481.28 L192.13,480.96 L192.88,481.29 L193.63,481.01 L194.39,481.27 L195.14,480.85 L195.89,481.28 L196.65,480.92 L197.40,481.19 L198.15,481.03 L198.91,481.23 L199.66,480.99 L200.41,481.24 L201.17,481.01 L201.92,481.25 L202.67,480.97 L203.43,481.17 L204.18,480.98 L204.93,481.21 L205.69,480.87 L206.44,481.20 L207.19,480.97 L207.95,481.20 L208.70,480.76 L209.45,481.20 L210.21,480.75 L210.96,481.15 L211.71,480.74 L212.47,481.23 L213.22,480.85 L213.97,481.19 L214.73,480.85 L215.48,481.22 L216.23,480.97 L216.99,481.19 L217.74,480.84 L218.49,481.15 L219.25,480.79 L220.00,481.09 L220.75,480.52 L221.51,481.11 L222.26,480.49 L223.01,481.14 L223.77,480.56 L224.52,481.14 L225.27,480.74 L226.03,481.10 L226.78,480.55 L227.53,481.12 L228.29,480.58 L229.04,481.07 L229.79,480.30 L230.55,481.00 L231.30,480.19 L232.05,480.85 L232.81,480.29 L233.56,480.92 L234.31,480.22 L235.07,480.85 L235.82,480.48 L236.57,480.77 L237.33,480.18 L238.08,480.74 L238.83,480.41 L239.59,480.73 L240.34,480.18 L241.09,480.73 L241.85,480.36 L242.60,480.74 L243.35,480.17 L244.11,480.71 L244.86,480.29 L245.61,480.70 L246.37,479.98 L247.12,480.67 L247.87,479.75 L248.63,480.61 L249.38,480.14 L250.13,480.48 L250.89,480.04 L251.64,480.53 L252.39,480.03 L253.15,480.39 L253.90,480.03 L254.65,480.33 L255.41,479.59 L256.16,480.46 L256.91,479.83 L257.67,480.38 L258.42,479.75 L259.17,480.30 L259.93,479.76 L260.68,480.29 L261.43,479.79 L262.19,480.18 L262.94,479.62 L263.69,480.14 L264.45,479.62 L265.20,480.24 L265.95,479.79 L266.71,480.05 L267.46,479.38 L268.21,480.00 L268.97,479.61 L269.72,480.11 L270.47,479.40 L271.23,479.96 L271.98,479.63 L272.73,479.94 L273.49,479.48 L274.24,480.00 L274.99,479.11 L275.75,479.96 L276.50,479.76 L277.26,479.92 L278.02,479.02 L278.79,479.83 L279.55,478.94 L280.31,479.77 L281.07,479.26 L281.84,479.56 L282.60,479.10 L283.36,479.53 L284.12,478.90 L284.88,479.40 L285.65,478.64 L286.41,479.33 L287.17,478.87 L287.93,479.22 L288.69,478.66 L289.46,479.20 L290.22,478.53 L290.98,479.09 L291.74,478.63 L292.51,479.00 L293.27,478.48 L294.03,478.87 L294.79,478.29 L295.55,478.79 L296.32,478.12 L297.08,478.79 L297.84,478.32 L298.60,478.70 L299.36,478.14 L300.13,478.59 L300.89,477.92 L301.65,478.56 L302.41,477.71 L303.18,478.47 L303.94,477.95 L304.70,478.22 L305.55,476.69 L306.40,476.21 L307.25,474.84 L308.10,474.01 L309.50,478.12 L310.40,475.43 L311.30,472.46 L312.50,477.91 L313.25,477.37 L314.00,477.90 L314.75,477.24 L315.50,477.69 L316.25,476.94 L317.00,477.35 L317.75,476.63 L318.50,477.18 L319.25,476.52 L320.00,476.88 L320.80,476.72 L321.60,477.09 L322.40,476.47 L323.20,477.26 L324.00,477.01 L324.80,477.44 L325.60,477.20 L326.40,477.73 L327.20,476.93 L328.00,477.70 L328.84,477.08 L329.68,477.61 L330.51,476.76 L331.35,477.42 L332.19,476.92 L333.02,477.25 L333.86,476.60 L334.70,476.88 L335.57,476.20 L336.43,476.29 L337.30,475.86 L338.08,475.93 L338.87,475.49 L339.65,475.90 L340.43,475.09 L341.22,475.83 L342.00,475.44 L342.78,475.78 L343.57,475.36 L344.35,475.67 L345.13,474.88 L345.92,475.64 L346.70,475.44 L347.50,475.55 L348.30,474.66 L349.10,475.22 L349.90,474.76 L350.70,474.93 L351.46,474.58 L352.21,475.24 L352.97,474.83 L353.73,475.32 L354.49,474.73 L355.24,475.47 L356.00,475.44 L356.82,475.13 L357.65,474.05 L358.48,474.27 L359.30,473.59 L360.08,473.57 L360.87,473.16 L361.65,473.57 L362.43,472.79 L363.22,473.31 L364.00,473.18 L364.70,470.00 L365.70,471.52 L366.70,473.59 L367.52,473.18 L368.35,473.53 L369.18,472.64 L370.00,473.26 L370.82,472.77 L371.65,473.14 L372.48,472.46 L373.30,472.77 L374.05,471.91 L374.80,472.51 L375.55,471.38 L376.30,471.97 L377.05,471.10 L377.80,471.36 L378.55,470.46 L379.30,470.82 L380.20,470.73 L381.10,471.56 L382.00,471.75 L382.78,471.83 L383.57,470.93 L384.35,471.68 L385.13,470.82 L385.92,471.62 L386.70,471.33 L387.46,471.12 L388.21,470.43 L388.97,470.74 L389.73,469.70 L390.49,470.23 L391.24,469.45 L392.00,469.49 L392.80,468.83 L393.60,469.33 L394.40,468.46 L395.20,468.91 L396.00,467.88 L396.80,468.45 L397.60,467.96 L398.40,468.20 L399.20,467.33 L400.00,467.64 L400.80,467.59 L401.60,468.77 L402.70,465.28 L403.80,464.25 L404.65,464.68 L405.50,466.51 L406.60,465.71 L407.70,465.99 L408.60,465.84 L409.50,467.18 L410.40,467.64 L411.33,467.48 L412.27,465.71 L413.20,466.51 L414.02,465.08 L414.85,465.81 L415.68,464.35 L416.50,464.25 L417.40,463.29 L418.30,463.62 L419.20,463.12 L420.25,463.20 L421.30,462.71 L422.00,463.12 L422.88,462.51 L423.76,463.44 L424.64,462.19 L425.52,463.40 L426.40,463.12 L427.30,463.50 L428.20,461.93 L429.10,463.12 L430.20,459.29 L431.30,458.08 L432.40,458.91 L433.50,460.86 L434.38,460.07 L435.26,461.29 L436.14,460.05 L437.02,461.04 L437.90,460.86 L438.70,457.17 L439.50,452.46 L440.30,449.20 L441.05,452.39 L441.80,458.08 L442.90,457.61 L444.00,459.21 L444.80,457.27 L445.60,456.34 L446.53,455.36 L447.47,457.36 L448.40,457.47 L449.20,457.35 L450.00,455.89 L450.80,457.04 L451.60,456.34 L452.70,455.41 L453.80,454.10 L454.80,450.63 L455.80,447.00 L456.75,449.59 L457.70,451.90 L458.80,452.54 L459.90,453.00 L461.00,452.16 L462.10,450.80 L462.93,451.68 L463.75,450.99 L464.57,453.05 L465.40,453.60 L466.20,452.90 L467.25,448.98 L468.30,445.90 L469.30,446.81 L470.30,449.40 L471.27,448.27 L472.23,449.33 L473.20,448.80 L473.95,448.20 L474.70,446.03 L475.45,446.71 L476.20,445.30 L477.02,446.03 L477.84,443.96 L478.66,445.84 L479.48,444.04 L480.30,445.30 L481.07,443.64 L481.83,446.98 L482.60,447.10 L483.50,446.20 L484.40,443.03 L485.30,444.21 L486.20,442.90 L486.97,442.09 L487.73,440.21 L488.50,440.00 L489.30,435.70 L490.10,436.25 L490.90,433.50 L491.67,436.42 L492.43,436.98 L493.20,441.20 L493.95,438.99 L494.70,440.78 L495.45,438.39 L496.20,440.00 L496.97,436.52 L497.73,437.60 L498.50,435.30 L499.25,435.77 L500.00,434.22 L500.75,436.65 L501.50,436.50 L502.35,438.02 L503.20,438.20 L504.00,436.79 L504.80,432.83 L505.60,432.90 L506.48,431.27 L507.35,434.45 L508.23,433.11 L509.10,435.30 L509.90,430.71 L510.70,430.72 L511.50,428.20 L512.50,423.65 L513.50,417.60 L514.55,422.08 L515.60,425.90 L516.37,426.89 L517.13,425.83 L517.90,427.60 L518.65,426.59 L519.40,430.17 L520.15,428.77 L520.90,431.80 L521.67,429.34 L522.43,429.36 L523.20,427.10 L524.40,416.50 L525.00,423.50 L526.40,414.10 L527.15,416.40 L527.90,422.90 L528.70,421.04 L529.50,423.17 L530.30,422.90 L531.10,419.79 L531.90,416.10 L532.85,418.12 L533.80,419.30 L534.67,417.57 L535.53,413.18 L536.40,413.60 L537.70,414.80 L538.65,412.34 L539.60,409.10 L540.55,413.34 L541.50,416.10 L542.33,415.08 L543.17,411.76 L544.00,412.30 L544.87,409.60 L545.73,411.57 L546.60,410.40 L547.43,412.07 L548.27,412.18 L549.10,414.20 L549.90,411.00 L550.70,411.08 L551.50,406.64 L552.30,407.20 L553.25,404.19 L554.20,405.90 L555.07,401.04 L555.93,401.59 L556.80,398.30 L557.63,401.70 L558.47,403.86 L559.30,407.80 L560.17,404.26 L561.03,403.27 L561.90,400.80 L562.73,399.30 L563.57,395.71 L564.40,395.70 L565.40,397.19 L566.40,400.80 L567.35,392.35 L568.30,387.40 L569.13,388.17 L569.97,391.97 L570.80,393.80 L571.67,389.25 L572.53,382.17 L573.40,377.90 L574.35,382.05 L575.30,390.60 L576.10,389.17 L576.90,391.50 L577.70,390.16 L578.50,391.30 L579.27,382.10 L580.03,377.53 L580.80,369.60 L582.00,390.00 L582.77,385.12 L583.55,382.78 L584.33,376.71 L585.10,374.70 L585.95,380.18 L586.80,388.70 L587.60,385.59 L588.40,386.99 L589.20,384.08 L590.00,384.20 L590.77,381.39 L591.55,382.92 L592.33,379.85 L593.10,380.40 L594.10,380.29 L595.10,383.60 L595.93,377.98 L596.77,376.37 L597.60,372.10 L598.10,372.00 L598.10,481.30 Z" fill="rgba(255,0,0,0.32)" stroke="none"/><path d="M43.20,480.48 L44.50,479.04 L46.00,480.99 L66.50,481.30 L66.70,481.51 L68.50,465.07 L71.90,460.44 L76.40,453.50 L78.70,442.20 L79.40,411.80 L80.30,481.51 L80.80,481.30 L81.55,481.37 L82.30,481.08 L83.05,481.33 L83.81,480.95 L84.56,481.32 L85.31,481.05 L86.06,481.41 L86.81,481.16 L87.56,481.38 L88.32,481.02 L89.07,481.32 L89.82,481.08 L90.57,481.39 L91.32,481.06 L92.08,481.40 L92.83,481.14 L93.58,481.34 L94.33,481.15 L95.08,481.37 L95.83,480.94 L96.58,481.38 L97.34,480.98 L98.09,481.36 L98.84,480.98 L99.59,481.33 L100.34,481.11 L101.09,481.39 L101.85,480.99 L102.60,481.36 L103.35,481.16 L104.10,481.35 L104.85,481.13 L105.61,481.35 L106.36,480.97 L107.11,481.34 L107.86,480.95 L108.61,481.41 L109.36,481.17 L110.11,481.36 L110.87,481.05 L111.62,481.32 L112.37,481.07 L113.12,481.41 L113.87,481.15 L114.62,481.38 L115.38,481.15 L116.13,481.38 L116.88,480.94 L117.63,481.34 L118.38,481.18 L119.13,481.33 L119.89,481.04 L120.64,481.32 L121.39,481.16 L122.14,481.37 L122.89,480.94 L123.64,481.36 L124.40,481.08 L125.15,481.39 L125.90,481.16 L126.65,481.38 L127.40,481.14 L128.16,481.38 L128.91,480.93 L129.66,481.33 L130.41,481.03 L131.16,481.38 L131.91,481.14 L132.66,481.35 L133.42,480.92 L134.17,481.42 L134.92,481.15 L135.67,481.39 L136.42,480.93 L137.18,481.34 L137.93,481.02 L138.68,481.32 L139.43,481.09 L140.18,481.39 L140.93,481.03 L141.69,481.40 L142.44,481.16 L143.19,481.36 L143.94,480.95 L144.69,481.38 L145.44,481.06 L146.19,481.36 L146.95,480.92 L147.70,481.38 L148.45,481.18 L149.20,481.40 L149.95,481.10 L150.70,481.37 L151.46,481.13 L152.21,481.37 L152.96,481.10 L153.71,481.33 L154.46,481.01 L155.21,481.33 L155.97,480.97 L156.72,481.32 L157.47,480.97 L158.22,481.40 L158.97,481.05 L159.72,481.39 L160.48,481.12 L161.23,481.40 L161.98,481.07 L162.73,481.34 L163.48,480.92 L164.24,481.36 L164.99,481.08 L165.74,481.41 L166.49,481.08 L167.24,481.39 L167.99,481.14 L168.75,481.41 L169.50,481.11 L170.25,481.33 L171.00,481.30 L171.90,470.92 L173.20,481.20 L173.96,481.32 L174.71,481.04 L175.47,481.32 L176.22,480.82 L176.98,481.28 L177.74,481.08 L178.49,481.22 L179.25,481.03 L180.01,481.26 L180.76,480.92 L181.52,481.32 L182.28,480.99 L183.03,481.23 L183.79,480.93 L184.54,481.23 L185.30,481.20 L185.70,478.83 L186.10,481.20 L186.85,481.22 L187.61,480.93 L188.36,481.28 L189.11,481.05 L189.87,481.25 L190.62,480.88 L191.37,481.28 L192.13,480.96 L192.88,481.29 L193.63,481.01 L194.39,481.27 L195.14,480.85 L195.89,481.28 L196.65,480.92 L197.40,481.19 L198.15,481.03 L198.91,481.23 L199.66,480.99 L200.41,481.24 L201.17,481.01 L201.92,481.25 L202.67,480.97 L203.43,481.17 L204.18,480.98 L204.93,481.21 L205.69,480.87 L206.44,481.20 L207.19,480.97 L207.95,481.20 L208.70,480.76 L209.45,481.20 L210.21,480.75 L210.96,481.15 L211.71,480.74 L212.47,481.23 L213.22,480.85 L213.97,481.19 L214.73,480.85 L215.48,481.22 L216.23,480.97 L216.99,481.19 L217.74,480.84 L218.49,481.15 L219.25,480.79 L220.00,481.09 L220.75,480.52 L221.51,481.11 L222.26,480.49 L223.01,481.14 L223.77,480.56 L224.52,481.14 L225.27,480.74 L226.03,481.10 L226.78,480.55 L227.53,481.12 L228.29,480.58 L229.04,481.07 L229.79,480.30 L230.55,481.00 L231.30,480.19 L232.05,480.85 L232.81,480.29 L233.56,480.92 L234.31,480.22 L235.07,480.85 L235.82,480.48 L236.57,480.77 L237.33,480.18 L238.08,480.74 L238.83,480.41 L239.59,480.73 L240.34,480.18 L241.09,480.73 L241.85,480.36 L242.60,480.74 L243.35,480.17 L244.11,480.71 L244.86,480.29 L245.61,480.70 L246.37,479.98 L247.12,480.67 L247.87,479.75 L248.63,480.61 L249.38,480.14 L250.13,480.48 L250.89,480.04 L251.64,480.53 L252.39,480.03 L253.15,480.39 L253.90,480.03 L254.65,480.33 L255.41,479.59 L256.16,480.46 L256.91,479.83 L257.67,480.38 L258.42,479.75 L259.17,480.30 L259.93,479.76 L260.68,480.29 L261.43,479.79 L262.19,480.18 L262.94,479.62 L263.69,480.14 L264.45,479.62 L265.20,480.24 L265.95,479.79 L266.71,480.05 L267.46,479.38 L268.21,480.00 L268.97,479.61 L269.72,480.11 L270.47,479.40 L271.23,479.96 L271.98,479.63 L272.73,479.94 L273.49,479.48 L274.24,480.00 L274.99,479.11 L275.75,479.96 L276.50,479.76 L277.26,479.92 L278.02,479.02 L278.79,479.83 L279.55,478.94 L280.31,479.77 L281.07,479.26 L281.84,479.56 L282.60,479.10 L283.36,479.53 L284.12,478.90 L284.88,479.40 L285.65,478.64 L286.41,479.33 L287.17,478.87 L287.93,479.22 L288.69,478.66 L289.46,479.20 L290.22,478.53 L290.98,479.09 L291.74,478.63 L292.51,479.00 L293.27,478.48 L294.03,478.87 L294.79,478.29 L295.55,478.79 L296.32,478.12 L297.08,478.79 L297.84,478.32 L298.60,478.70 L299.36,478.14 L300.13,478.59 L300.89,477.92 L301.65,478.56 L302.41,477.71 L303.18,478.47 L303.94,477.95 L304.70,478.22 L305.55,476.69 L306.40,476.21 L307.25,474.84 L308.10,474.01 L309.50,478.12 L310.40,475.43 L311.30,472.46 L312.50,477.91 L313.25,477.37 L314.00,477.90 L314.75,477.24 L315.50,477.69 L316.25,476.94 L317.00,477.35 L317.75,476.63 L318.50,477.18 L319.25,476.52 L320.00,476.88 L320.80,476.72 L321.60,477.09 L322.40,476.47 L323.20,477.26 L324.00,477.01 L324.80,477.44 L325.60,477.20 L326.40,477.73 L327.20,476.93 L328.00,477.70 L328.84,477.08 L329.68,477.61 L330.51,476.76 L331.35,477.42 L332.19,476.92 L333.02,477.25 L333.86,476.60 L334.70,476.88 L335.57,476.20 L336.43,476.29 L337.30,475.86 L338.08,475.93 L338.87,475.49 L339.65,475.90 L340.43,475.09 L341.22,475.83 L342.00,475.44 L342.78,475.78 L343.57,475.36 L344.35,475.67 L345.13,474.88 L345.92,475.64 L346.70,475.44 L347.50,475.55 L348.30,474.66 L349.10,475.22 L349.90,474.76 L350.70,474.93 L351.46,474.58 L352.21,475.24 L352.97,474.83 L353.73,475.32 L354.49,474.73 L355.24,475.47 L356.00,475.44 L356.82,475.13 L357.65,474.05 L358.48,474.27 L359.30,473.59 L360.08,473.57 L360.87,473.16 L361.65,473.57 L362.43,472.79 L363.22,473.31 L364.00,473.18 L364.70,470.00 L365.70,471.52 L366.70,473.59 L367.52,473.18 L368.35,473.53 L369.18,472.64 L370.00,473.26 L370.82,472.77 L371.65,473.14 L372.48,472.46 L373.30,472.77 L374.05,471.91 L374.80,472.51 L375.55,471.38 L376.30,471.97 L377.05,471.10 L377.80,471.36 L378.55,470.46 L379.30,470.82 L380.20,470.73 L381.10,471.56 L382.00,471.75 L382.78,471.83 L383.57,470.93 L384.35,471.68 L385.13,470.82 L385.92,471.62 L386.70,471.33 L387.46,471.12 L388.21,470.43 L388.97,470.74 L389.73,469.70 L390.49,470.23 L391.24,469.45 L392.00,469.49 L392.80,468.83 L393.60,469.33 L394.40,468.46 L395.20,468.91 L396.00,467.88 L396.80,468.45 L397.60,467.96 L398.40,468.20 L399.20,467.33 L400.00,467.64 L400.80,467.59 L401.60,468.77 L402.70,465.28 L403.80,464.25 L404.65,464.68 L405.50,466.51 L406.60,465.71 L407.70,465.99 L408.60,465.84 L409.50,467.18 L410.40,467.64 L411.33,467.48 L412.27,465.71 L413.20,466.51 L414.02,465.08 L414.85,465.81 L415.68,464.35 L416.50,464.25 L417.40,463.29 L418.30,463.62 L419.20,463.12 L420.25,463.20 L421.30,462.71 L422.00,463.12 L422.88,462.51 L423.76,463.44 L424.64,462.19 L425.52,463.40 L426.40,463.12 L427.30,463.50 L428.20,461.93 L429.10,463.12 L430.20,459.29 L431.30,458.08 L432.40,458.91 L433.50,460.86 L434.38,460.07 L435.26,461.29 L436.14,460.05 L437.02,461.04 L437.90,460.86 L438.70,457.17 L439.50,452.46 L440.30,449.20 L441.05,452.39 L441.80,458.08 L442.90,457.61 L444.00,459.21 L444.80,457.27 L445.60,456.34 L446.53,455.36 L447.47,457.36 L448.40,457.47 L449.20,457.35 L450.00,455.89 L450.80,457.04 L451.60,456.34 L452.70,455.41 L453.80,454.10 L454.80,450.63 L455.80,447.00 L456.75,449.59 L457.70,451.90 L458.80,452.54 L459.90,453.00 L461.00,452.16 L462.10,450.80 L462.93,451.68 L463.75,450.99 L464.57,453.05 L465.40,453.60 L466.20,452.90 L467.25,448.98 L468.30,445.90 L469.30,446.81 L470.30,449.40 L471.27,448.27 L472.23,449.33 L473.20,448.80 L473.95,448.20 L474.70,446.03 L475.45,446.71 L476.20,445.30 L477.02,446.03 L477.84,443.96 L478.66,445.84 L479.48,444.04 L480.30,445.30 L481.07,443.64 L481.83,446.98 L482.60,447.10 L483.50,446.20 L484.40,443.03 L485.30,444.21 L486.20,442.90 L486.97,442.09 L487.73,440.21 L488.50,440.00 L489.30,435.70 L490.10,436.25 L490.90,433.50 L491.67,436.42 L492.43,436.98 L493.20,441.20 L493.95,438.99 L494.70,440.78 L495.45,438.39 L496.20,440.00 L496.97,436.52 L497.73,437.60 L498.50,435.30 L499.25,435.77 L500.00,434.22 L500.75,436.65 L501.50,436.50 L502.35,438.02 L503.20,438.20 L504.00,436.79 L504.80,432.83 L505.60,432.90 L506.48,431.27 L507.35,434.45 L508.23,433.11 L509.10,435.30 L509.90,430.71 L510.70,430.72 L511.50,428.20 L512.50,423.65 L513.50,417.60 L514.55,422.08 L515.60,425.90 L516.37,426.89 L517.13,425.83 L517.90,427.60 L518.65,426.59 L519.40,430.17 L520.15,428.77 L520.90,431.80 L521.67,429.34 L522.43,429.36 L523.20,427.10 L524.40,416.50 L525.00,423.50 L526.40,414.10 L527.15,416.40 L527.90,422.90 L528.70,421.04 L529.50,423.17 L530.30,422.90 L531.10,419.79 L531.90,416.10 L532.85,418.12 L533.80,419.30 L534.67,417.57 L535.53,413.18 L536.40,413.60 L537.70,414.80 L538.65,412.34 L539.60,409.10 L540.55,413.34 L541.50,416.10 L542.33,415.08 L543.17,411.76 L544.00,412.30 L544.87,409.60 L545.73,411.57 L546.60,410.40 L547.43,412.07 L548.27,412.18 L549.10,414.20 L549.90,411.00 L550.70,411.08 L551.50,406.64 L552.30,407.20 L553.25,404.19 L554.20,405.90 L555.07,401.04 L555.93,401.59 L556.80,398.30 L557.63,401.70 L558.47,403.86 L559.30,407.80 L560.17,404.26 L561.03,403.27 L561.90,400.80 L562.73,399.30 L563.57,395.71 L564.40,395.70 L565.40,397.19 L566.40,400.80 L567.35,392.35 L568.30,387.40 L569.13,388.17 L569.97,391.97 L570.80,393.80 L571.67,389.25 L572.53,382.17 L573.40,377.90 L574.35,382.05 L575.30,390.60 L576.10,389.17 L576.90,391.50 L577.70,390.16 L578.50,391.30 L579.27,382.10 L580.03,377.53 L580.80,369.60 L582.00,390.00 L582.77,385.12 L583.55,382.78 L584.33,376.71 L585.10,374.70 L585.95,380.18 L586.80,388.70 L587.60,385.59 L588.40,386.99 L589.20,384.08 L590.00,384.20 L590.77,381.39 L591.55,382.92 L592.33,379.85 L593.10,380.40 L594.10,380.29 L595.10,383.60 L595.93,377.98 L596.77,376.37 L597.60,372.10 L598.10,372.00" fill="none" stroke="#ff2a2a" stroke-width="0.95" stroke-linejoin="round"/>
<line x1="357.0" y1="77.6" x2="357.0" y2="205" stroke="#ff7a7a" stroke-width="2.0"/>
<line x1="421.65" y1="340.1" x2="421.65" y2="463" stroke="#ff7a7a" stroke-width="2.0"/>
<g stroke="#8f8f8f" stroke-width="1.05" stroke-linecap="round" fill="none"><line x1="44.40" y1="101.70" x2="54.20" y2="96.30"/><line x1="54.20" y1="96.30" x2="63.70" y2="100.70"/><line x1="63.70" y1="100.70" x2="74.30" y2="96.30"/><line x1="74.30" y1="96.30" x2="74.30" y2="84.00"/><line x1="74.30" y1="84.00" x2="84.60" y2="77.60"/><line x1="84.60" y1="77.60" x2="84.60" y2="66.40"/><line x1="73.99" y1="97.04" x2="84.29" y2="101.44"/><line x1="74.61" y1="95.56" x2="84.91" y2="99.96"/></g><circle cx="63.70" cy="100.70" r="2.30" fill="white"/><text x="63.70" y="102.36" font-family='"Liberation Sans", sans-serif' font-size="4.6" font-weight="bold" fill="#ff5050" text-anchor="middle">O</text><circle cx="74.30" cy="84.00" r="2.30" fill="white"/><text x="74.30" y="85.66" font-family='"Liberation Sans", sans-serif' font-size="4.6" font-weight="bold" fill="#ff5050" text-anchor="middle">O</text><circle cx="84.60" cy="100.70" r="2.30" fill="white"/><text x="84.60" y="102.36" font-family='"Liberation Sans", sans-serif' font-size="4.6" font-weight="bold" fill="#ff5050" text-anchor="middle">O</text>
<g stroke="#8f8f8f" stroke-width="1.05" stroke-linecap="round" fill="none"><line x1="104.40" y1="114.70" x2="113.50" y2="120.00"/><line x1="113.50" y1="120.00" x2="113.50" y2="131.20"/><line x1="113.50" y1="120.00" x2="122.30" y2="114.70"/><line x1="122.30" y1="114.70" x2="131.50" y2="120.00"/><line x1="131.50" y1="120.00" x2="140.60" y2="114.70"/><line x1="140.60" y1="114.70" x2="149.70" y2="120.00"/><line x1="149.70" y1="120.00" x2="149.70" y2="131.20"/><line x1="149.70" y1="120.00" x2="159.10" y2="114.70"/><line x1="130.70" y1="120.00" x2="130.70" y2="130.60"/><line x1="132.30" y1="120.00" x2="132.30" y2="130.60"/></g><circle cx="122.30" cy="114.70" r="2.30" fill="white"/><text x="122.30" y="116.36" font-family='"Liberation Sans", sans-serif' font-size="4.6" font-weight="bold" fill="#ff5050" text-anchor="middle">O</text><circle cx="140.60" cy="114.70" r="2.30" fill="white"/><text x="140.60" y="116.36" font-family='"Liberation Sans", sans-serif' font-size="4.6" font-weight="bold" fill="#ff5050" text-anchor="middle">O</text><circle cx="131.50" cy="130.60" r="2.30" fill="white"/><text x="131.50" y="132.26" font-family='"Liberation Sans", sans-serif' font-size="4.6" font-weight="bold" fill="#ff5050" text-anchor="middle">O</text>
<g stroke="#8f8f8f" stroke-width="1.05" stroke-linecap="round" fill="none"><line x1="133.50" y1="182.30" x2="140.60" y2="191.10"/><line x1="140.60" y1="191.10" x2="133.50" y2="199.90"/><line x1="133.50" y1="199.90" x2="122.40" y2="196.70"/><line x1="122.40" y1="196.70" x2="122.40" y2="185.30"/><line x1="122.40" y1="185.30" x2="133.50" y2="182.30"/><line x1="140.60" y1="191.90" x2="152.00" y2="191.90"/><line x1="140.60" y1="190.30" x2="152.00" y2="190.30"/></g><circle cx="133.50" cy="182.30" r="2.30" fill="white"/><text x="133.50" y="183.96" font-family='"Liberation Sans", sans-serif' font-size="4.6" font-weight="bold" fill="#ff5050" text-anchor="middle">O</text><circle cx="133.50" cy="199.90" r="2.30" fill="white"/><text x="133.50" y="201.56" font-family='"Liberation Sans", sans-serif' font-size="4.6" font-weight="bold" fill="#ff5050" text-anchor="middle">O</text><circle cx="152.00" cy="191.10" r="2.30" fill="white"/><text x="152.00" y="192.76" font-family='"Liberation Sans", sans-serif' font-size="4.6" font-weight="bold" fill="#ff5050" text-anchor="middle">O</text>
<g stroke="#8f8f8f" stroke-width="1.05" stroke-linecap="round" fill="none"><line x1="166.10" y1="150.50" x2="175.00" y2="150.50"/><line x1="166.10" y1="150.50" x2="157.30" y2="150.50"/><line x1="166.10" y1="150.50" x2="166.10" y2="158.80"/><line x1="157.30" y1="150.50" x2="152.90" y2="157.90"/><line x1="152.90" y1="157.90" x2="144.10" y2="157.90"/><line x1="152.90" y1="157.90" x2="157.30" y2="166.70"/><line x1="166.10" y1="158.80" x2="174.10" y2="163.20"/><line x1="174.10" y1="163.20" x2="182.00" y2="159.70"/><line x1="174.10" y1="163.20" x2="174.10" y2="172.90"/><line x1="166.90" y1="150.50" x2="166.90" y2="142.40"/><line x1="165.30" y1="150.50" x2="165.30" y2="142.40"/></g>
<circle cx="166.10" cy="142.40" r="2.50" fill="white"/><text x="166.10" y="144.20" font-family='"Liberation Sans", sans-serif' font-size="5.0" font-weight="bold" fill="#ff5050" text-anchor="middle">O</text><circle cx="157.30" cy="150.50" r="2.50" fill="white"/><text x="157.30" y="152.30" font-family='"Liberation Sans", sans-serif' font-size="5.0" font-weight="bold" fill="#ff5050" text-anchor="middle">O</text><circle cx="166.10" cy="158.80" r="2.50" fill="white"/><text x="166.10" y="160.60" font-family='"Liberation Sans", sans-serif' font-size="5.0" font-weight="bold" fill="#ff5050" text-anchor="middle">O</text><circle cx="166.10" cy="150.50" r="2.50" fill="white"/><text x="166.10" y="152.30" font-family='"Liberation Sans", sans-serif' font-size="5.0" font-weight="bold" fill="#e8a040" text-anchor="middle">P</text><circle cx="175.00" cy="150.50" r="2.50" fill="white"/><text x="175.00" y="152.30" font-family='"Liberation Sans", sans-serif' font-size="5.0" font-weight="bold" fill="#80c040" text-anchor="middle">F</text>
<g stroke="#8f8f8f" stroke-width="1.05" stroke-linecap="round" fill="none"><line x1="195.40" y1="171.70" x2="201.70" y2="171.70"/><line x1="201.70" y1="171.70" x2="206.70" y2="178.10"/><line x1="206.70" y1="178.10" x2="212.30" y2="178.10"/><line x1="212.30" y1="178.10" x2="217.30" y2="183.70"/><line x1="222.90" y1="183.70" x2="227.90" y2="190.10"/><line x1="227.90" y1="190.10" x2="233.50" y2="190.10"/><line x1="233.50" y1="190.10" x2="238.40" y2="196.40"/><line x1="238.40" y1="196.40" x2="244.80" y2="196.40"/><line x1="217.30" y1="184.50" x2="222.90" y2="184.50"/><line x1="217.30" y1="182.90" x2="222.90" y2="182.90"/></g>
<g stroke="#8f8f8f" stroke-width="1.05" stroke-linecap="round" fill="none"><line x1="290.40" y1="165.90" x2="295.50" y2="157.30"/><line x1="295.50" y1="157.30" x2="305.80" y2="157.30"/><line x1="305.80" y1="157.30" x2="310.60" y2="165.90"/><line x1="310.60" y1="165.90" x2="305.80" y2="174.20"/><line x1="305.80" y1="174.20" x2="295.50" y2="174.20"/><line x1="295.50" y1="174.20" x2="290.40" y2="165.90"/><line x1="279.40" y1="165.90" x2="290.40" y2="165.90"/></g>
<g stroke="#8f8f8f" stroke-width="1.05" stroke-linecap="round" fill="none"><line x1="278.82" y1="165.50" x2="272.92" y2="174.10"/><line x1="279.98" y1="166.30" x2="274.08" y2="174.90"/><line x1="272.90" y1="174.14" x2="267.80" y2="182.74"/><line x1="274.10" y1="174.86" x2="269.00" y2="183.46"/></g>
<circle cx="279.40" cy="165.90" r="2.50" fill="white"/><text x="279.40" y="167.70" font-family='"Liberation Sans", sans-serif' font-size="5.0" font-weight="bold" fill="#4050d0" text-anchor="middle">N</text><circle cx="273.50" cy="174.50" r="2.00" fill="white"/><text x="273.50" y="175.94" font-family='"Liberation Sans", sans-serif' font-size="4.0" font-weight="bold" fill="#666666" text-anchor="middle">C</text><circle cx="268.40" cy="183.10" r="2.50" fill="white"/><text x="268.40" y="184.90" font-family='"Liberation Sans", sans-serif' font-size="5.0" font-weight="bold" fill="#b0a030" text-anchor="middle">S</text>
<g stroke="#8f8f8f" stroke-width="1.05" stroke-linecap="round" fill="none"><line x1="356.50" y1="42.40" x2="365.90" y2="48.00"/><line x1="365.90" y1="48.00" x2="365.90" y2="59.20"/><line x1="365.90" y1="59.20" x2="356.50" y2="65.00"/><line x1="356.50" y1="65.00" x2="347.10" y2="59.20"/><line x1="347.10" y1="59.20" x2="347.10" y2="48.00"/><line x1="347.10" y1="48.00" x2="356.50" y2="42.40"/><line x1="356.50" y1="42.40" x2="356.50" y2="36.00"/><line x1="356.50" y1="65.00" x2="356.50" y2="75.60"/><line x1="347.10" y1="48.00" x2="337.70" y2="42.70"/><line x1="337.70" y1="42.70" x2="337.70" y2="33.20"/><line x1="337.70" y1="42.70" x2="328.80" y2="49.10"/><line x1="337.70" y1="42.70" x2="345.30" y2="36.20"/><line x1="365.90" y1="48.00" x2="375.40" y2="42.70"/><line x1="375.40" y1="42.70" x2="375.40" y2="33.20"/><line x1="375.40" y1="42.70" x2="384.80" y2="49.10"/><line x1="375.40" y1="42.70" x2="377.70" y2="53.30"/></g>
<circle cx="356.5" cy="53.7" r="7.0" fill="none" stroke="#8f8f8f" stroke-width="0.9"/>
<text x="354.2" y="35.0" font-family='"Liberation Sans", sans-serif' font-size="4.8" font-weight="bold" fill="#ff5050">O</text><text x="358.2" y="35.0" font-family='"Liberation Sans", sans-serif' font-size="4.8" font-weight="bold" fill="#222">H</text>
<line x1="67.60" y1="161.70" x2="55.94" y2="107.09" stroke="#1a1a1a" stroke-width="1.40"/><path d="M55.30,104.10 L58.05,108.03 L54.39,108.81 Z" fill="#1a1a1a"/>
<line x1="110.30" y1="154.70" x2="116.58" y2="141.56" stroke="#1a1a1a" stroke-width="1.40"/><path d="M117.90,138.80 L117.68,143.59 L114.31,141.98 Z" fill="#1a1a1a"/>
<line x1="146.70" y1="220.50" x2="142.03" y2="205.82" stroke="#1a1a1a" stroke-width="1.40"/><path d="M141.10,202.90 L144.22,206.54 L140.66,207.68 Z" fill="#1a1a1a"/>
<line x1="154.70" y1="221.40" x2="164.22" y2="179.38" stroke="#1a1a1a" stroke-width="1.40"/><path d="M164.90,176.40 L165.75,181.12 L162.10,180.30 Z" fill="#1a1a1a"/>
<line x1="173.50" y1="216.50" x2="199.01" y2="196.21" stroke="#1a1a1a" stroke-width="1.40"/><path d="M201.40,194.30 L199.11,198.52 L196.78,195.59 Z" fill="#1a1a1a"/>
<line x1="263.90" y1="211.50" x2="282.57" y2="188.57" stroke="#1a1a1a" stroke-width="1.40"/><path d="M284.50,186.20 L283.16,190.81 L280.26,188.45 Z" fill="#1a1a1a"/>
<g stroke="#8f8f8f" stroke-width="1.05" stroke-linecap="round" fill="none"><line x1="66.20" y1="368.70" x2="77.20" y2="364.10"/><line x1="77.20" y1="364.10" x2="83.40" y2="368.70"/><line x1="83.40" y1="368.70" x2="93.00" y2="364.10"/><line x1="93.00" y1="364.10" x2="93.00" y2="354.00"/><line x1="93.00" y1="354.00" x2="101.20" y2="349.20"/><line x1="101.20" y1="349.20" x2="101.20" y2="338.90"/><line x1="92.61" y1="364.80" x2="100.81" y2="369.40"/><line x1="93.39" y1="363.40" x2="101.59" y2="368.00"/></g><circle cx="83.40" cy="368.70" r="2.00" fill="white"/><text x="83.40" y="370.14" font-family='"Liberation Sans", sans-serif' font-size="4.0" font-weight="bold" fill="#ff5050" text-anchor="middle">O</text><circle cx="93.00" cy="354.00" r="2.00" fill="white"/><text x="93.00" y="355.44" font-family='"Liberation Sans", sans-serif' font-size="4.0" font-weight="bold" fill="#ff5050" text-anchor="middle">O</text><circle cx="101.20" cy="368.70" r="2.00" fill="white"/><text x="101.20" y="370.14" font-family='"Liberation Sans", sans-serif' font-size="4.0" font-weight="bold" fill="#ff5050" text-anchor="middle">O</text>
<g stroke="#8f8f8f" stroke-width="1.05" stroke-linecap="round" fill="none"><line x1="91.10" y1="416.30" x2="100.10" y2="421.50"/><line x1="100.10" y1="421.50" x2="100.10" y2="432.10"/><line x1="100.10" y1="421.50" x2="109.20" y2="416.30"/><line x1="109.20" y1="416.30" x2="118.20" y2="421.50"/><line x1="118.20" y1="421.50" x2="127.20" y2="416.30"/><line x1="127.20" y1="416.30" x2="136.30" y2="421.50"/><line x1="136.30" y1="421.50" x2="136.30" y2="432.10"/><line x1="136.30" y1="421.50" x2="146.40" y2="416.30"/><line x1="117.40" y1="421.50" x2="117.40" y2="432.10"/><line x1="119.00" y1="421.50" x2="119.00" y2="432.10"/></g><circle cx="109.20" cy="416.30" r="2.00" fill="white"/><text x="109.20" y="417.74" font-family='"Liberation Sans", sans-serif' font-size="4.0" font-weight="bold" fill="#ff5050" text-anchor="middle">O</text><circle cx="127.20" cy="416.30" r="2.00" fill="white"/><text x="127.20" y="417.74" font-family='"Liberation Sans", sans-serif' font-size="4.0" font-weight="bold" fill="#ff5050" text-anchor="middle">O</text><circle cx="118.20" cy="432.10" r="2.00" fill="white"/><text x="118.20" y="433.54" font-family='"Liberation Sans", sans-serif' font-size="4.0" font-weight="bold" fill="#ff5050" text-anchor="middle">O</text>
<g stroke="#8f8f8f" stroke-width="1.05" stroke-linecap="round" fill="none"><line x1="164.30" y1="390.70" x2="170.90" y2="400.20"/><line x1="170.90" y1="400.20" x2="164.30" y2="409.20"/><line x1="164.30" y1="409.20" x2="153.40" y2="405.70"/><line x1="153.40" y1="405.70" x2="153.40" y2="394.80"/><line x1="153.40" y1="394.80" x2="164.30" y2="390.70"/><line x1="170.90" y1="401.00" x2="183.20" y2="401.00"/><line x1="170.90" y1="399.40" x2="183.20" y2="399.40"/></g><circle cx="164.30" cy="390.70" r="2.00" fill="white"/><text x="164.30" y="392.14" font-family='"Liberation Sans", sans-serif' font-size="4.0" font-weight="bold" fill="#ff5050" text-anchor="middle">O</text><circle cx="164.30" cy="409.20" r="2.00" fill="white"/><text x="164.30" y="410.64" font-family='"Liberation Sans", sans-serif' font-size="4.0" font-weight="bold" fill="#ff5050" text-anchor="middle">O</text><circle cx="183.20" cy="400.20" r="2.00" fill="white"/><text x="183.20" y="401.64" font-family='"Liberation Sans", sans-serif' font-size="4.0" font-weight="bold" fill="#ff5050" text-anchor="middle">O</text>
<g stroke="#8f8f8f" stroke-width="1.05" stroke-linecap="round" fill="none"><line x1="174.00" y1="430.00" x2="180.10" y2="430.00"/><line x1="180.10" y1="430.00" x2="184.20" y2="435.60"/><line x1="184.20" y1="435.60" x2="190.40" y2="435.60"/><line x1="190.40" y1="435.60" x2="195.60" y2="441.30"/><line x1="201.70" y1="441.30" x2="207.90" y2="447.90"/><line x1="207.90" y1="447.90" x2="213.00" y2="447.90"/><line x1="213.00" y1="447.90" x2="217.20" y2="454.10"/><line x1="217.20" y1="454.10" x2="222.30" y2="454.10"/><line x1="195.60" y1="442.10" x2="201.70" y2="442.10"/><line x1="195.60" y1="440.50" x2="201.70" y2="440.50"/></g>
<g stroke="#8f8f8f" stroke-width="1.05" stroke-linecap="round" fill="none"><line x1="189.80" y1="351.30" x2="198.20" y2="355.70"/><line x1="198.20" y1="355.70" x2="207.00" y2="351.30"/><line x1="207.00" y1="351.30" x2="216.40" y2="355.70"/><line x1="216.40" y1="355.70" x2="225.20" y2="351.30"/><line x1="225.20" y1="351.30" x2="234.60" y2="355.70"/><line x1="234.60" y1="355.70" x2="244.00" y2="351.30"/><line x1="244.00" y1="351.30" x2="253.40" y2="355.70"/><line x1="253.40" y1="355.70" x2="261.90" y2="351.30"/><line x1="261.90" y1="351.30" x2="271.30" y2="355.70"/><line x1="271.30" y1="355.70" x2="280.10" y2="351.30"/><line x1="233.80" y1="355.70" x2="233.80" y2="366.00"/><line x1="235.40" y1="355.70" x2="235.40" y2="366.00"/></g>
<circle cx="198.20" cy="355.70" r="2.00" fill="white"/><text x="198.20" y="357.14" font-family='"Liberation Sans", sans-serif' font-size="4.0" font-weight="bold" fill="#ff5050" text-anchor="middle">O</text>
<circle cx="225.20" cy="351.30" r="2.00" fill="white"/><text x="225.20" y="352.74" font-family='"Liberation Sans", sans-serif' font-size="4.0" font-weight="bold" fill="#ff5050" text-anchor="middle">O</text>
<circle cx="244.00" cy="351.30" r="2.00" fill="white"/><text x="244.00" y="352.74" font-family='"Liberation Sans", sans-serif' font-size="4.0" font-weight="bold" fill="#ff5050" text-anchor="middle">O</text>
<circle cx="271.30" cy="355.70" r="2.00" fill="white"/><text x="271.30" y="357.14" font-family='"Liberation Sans", sans-serif' font-size="4.0" font-weight="bold" fill="#ff5050" text-anchor="middle">O</text>
<circle cx="234.60" cy="366.00" r="2.00" fill="white"/><text x="234.60" y="367.44" font-family='"Liberation Sans", sans-serif' font-size="4.0" font-weight="bold" fill="#ff5050" text-anchor="middle">O</text>
<g stroke="#8f8f8f" stroke-width="1.00" stroke-linecap="round" fill="none"><line x1="274.50" y1="376.10" x2="285.80" y2="382.00"/><line x1="285.80" y1="382.00" x2="285.80" y2="395.20"/><line x1="285.80" y1="395.20" x2="274.50" y2="401.20"/><line x1="274.50" y1="401.20" x2="262.80" y2="395.20"/><line x1="262.80" y1="395.20" x2="262.80" y2="382.00"/><line x1="262.80" y1="382.00" x2="274.50" y2="376.10"/><line x1="285.80" y1="382.00" x2="297.70" y2="378.80"/><line x1="304.00" y1="388.20" x2="297.10" y2="398.30"/><line x1="297.10" y1="398.30" x2="285.80" y2="395.20"/></g>
<g stroke="#8f8f8f" stroke-width="1.00" stroke-linecap="round" fill="none"><line x1="297.12" y1="379.19" x2="303.42" y2="388.59"/><line x1="298.28" y1="378.41" x2="304.58" y2="387.81"/></g>
<circle cx="274.3" cy="388.6" r="8.0" fill="none" stroke="#8f8f8f" stroke-width="1.0"/>
<circle cx="304.00" cy="388.20" r="2.50" fill="white"/><text x="304.00" y="390.00" font-family='"Liberation Sans", sans-serif' font-size="5.0" font-weight="bold" fill="#4050d0" text-anchor="middle">N</text><circle cx="297.10" cy="398.30" r="2.50" fill="white"/><text x="297.10" y="400.10" font-family='"Liberation Sans", sans-serif' font-size="5.0" font-weight="bold" fill="#b0a030" text-anchor="middle">S</text>
<g stroke="#8f8f8f" stroke-width="1.00" stroke-linecap="round" fill="none"><line x1="337.40" y1="413.10" x2="343.50" y2="403.40"/><line x1="343.50" y1="403.40" x2="355.00" y2="403.40"/><line x1="355.00" y1="403.40" x2="361.00" y2="413.10"/><line x1="361.00" y1="413.10" x2="355.00" y2="423.00"/><line x1="355.00" y1="423.00" x2="343.50" y2="423.00"/><line x1="343.50" y1="423.00" x2="337.40" y2="413.10"/><line x1="325.30" y1="413.10" x2="337.40" y2="413.10"/></g>
<g stroke="#8f8f8f" stroke-width="1.05" stroke-linecap="round" fill="none"><line x1="324.71" y1="412.73" x2="318.51" y2="422.63"/><line x1="325.89" y1="413.47" x2="319.69" y2="423.37"/><line x1="318.51" y1="422.62" x2="312.31" y2="432.22"/><line x1="319.69" y1="423.38" x2="313.49" y2="432.98"/></g>
<circle cx="325.30" cy="413.10" r="2.50" fill="white"/><text x="325.30" y="414.90" font-family='"Liberation Sans", sans-serif' font-size="5.0" font-weight="bold" fill="#4050d0" text-anchor="middle">N</text><circle cx="319.10" cy="423.00" r="2.10" fill="white"/><text x="319.10" y="424.51" font-family='"Liberation Sans", sans-serif' font-size="4.2" font-weight="bold" fill="#666666" text-anchor="middle">C</text><circle cx="312.90" cy="432.60" r="2.50" fill="white"/><text x="312.90" y="434.40" font-family='"Liberation Sans", sans-serif' font-size="5.0" font-weight="bold" fill="#b0a030" text-anchor="middle">S</text>
<g stroke="#8f8f8f" stroke-width="1.05" stroke-linecap="round" fill="none"><line x1="420.50" y1="304.00" x2="429.90" y2="309.60"/><line x1="429.90" y1="309.60" x2="429.90" y2="320.10"/><line x1="429.90" y1="320.10" x2="420.50" y2="325.20"/><line x1="420.50" y1="325.20" x2="411.20" y2="320.10"/><line x1="411.20" y1="320.10" x2="411.20" y2="309.60"/><line x1="411.20" y1="309.60" x2="420.50" y2="304.00"/><line x1="420.50" y1="304.00" x2="420.50" y2="297.00"/><line x1="420.50" y1="325.20" x2="420.50" y2="335.40"/><line x1="411.20" y1="309.60" x2="401.90" y2="304.00"/><line x1="401.90" y1="304.00" x2="401.90" y2="294.60"/><line x1="401.90" y1="304.00" x2="392.70" y2="310.00"/><line x1="401.90" y1="304.00" x2="409.60" y2="297.20"/><line x1="429.90" y1="309.60" x2="438.90" y2="304.00"/><line x1="438.90" y1="304.00" x2="438.90" y2="294.60"/><line x1="438.90" y1="304.00" x2="448.80" y2="310.00"/><line x1="438.90" y1="304.00" x2="441.80" y2="314.10"/></g>
<circle cx="420.5" cy="314.6" r="6.8" fill="none" stroke="#8f8f8f" stroke-width="0.9"/>
<text x="418.2" y="296.0" font-family='"Liberation Sans", sans-serif' font-size="4.8" font-weight="bold" fill="#ff5050">O</text><text x="422.2" y="296.0" font-family='"Liberation Sans", sans-serif' font-size="4.8" font-weight="bold" fill="#222">H</text>
<line x1="78.30" y1="409.50" x2="81.73" y2="380.94" stroke="#1a1a1a" stroke-width="1.40"/><path d="M82.10,377.90 L83.43,382.51 L79.72,382.07 Z" fill="#1a1a1a"/>
<line x1="103.50" y1="476.10" x2="106.20" y2="440.00" stroke="#1a1a1a" stroke-width="1.40"/>
<line x1="173.30" y1="468.50" x2="164.81" y2="418.42" stroke="#1a1a1a" stroke-width="1.40"/><path d="M164.30,415.40 L166.88,419.45 L163.19,420.07 Z" fill="#1a1a1a"/>
<line x1="187.30" y1="478.40" x2="190.39" y2="463.20" stroke="#1a1a1a" stroke-width="1.40"/><path d="M191.00,460.20 L191.95,464.90 L188.29,464.16 Z" fill="#1a1a1a"/>
<line x1="222.70" y1="477.30" x2="234.83" y2="378.54" stroke="#1a1a1a" stroke-width="1.40"/><path d="M235.20,375.50 L236.52,380.11 L232.81,379.66 Z" fill="#1a1a1a"/>
<line x1="306.40" y1="469.30" x2="281.93" y2="407.74" stroke="#1a1a1a" stroke-width="1.40"/><path d="M280.80,404.90 L284.17,408.32 L280.70,409.70 Z" fill="#1a1a1a"/>
<line x1="311.40" y1="469.30" x2="319.08" y2="444.82" stroke="#1a1a1a" stroke-width="1.40"/><path d="M320.00,441.90 L320.46,446.68 L316.89,445.56 Z" fill="#1a1a1a"/>
<text transform="translate(50.6,37) scale(1.056,1)" font-family='"Liberation Serif", serif' font-weight="bold" font-size="15" fill="#111">E<tspan font-size="11" dy="3">upper</tspan><tspan dy="-3" font-size="15"> = 4.2 V</tspan></text>
<text transform="translate(55.6,288.7) scale(1.056,1)" font-family='"Liberation Serif", serif' font-weight="bold" font-size="15" fill="#111">E<tspan font-size="11" dy="3">upper</tspan><tspan dy="-3" font-size="15"> = 4.8 V</tspan></text>
<text transform="translate(555.0,36.4) scale(1.17,1)" font-family='"Liberation Serif", serif' font-weight="bold" font-size="18" fill="#111">(a)</text>
<text transform="translate(554.8,300.8) scale(1.17,1)" font-family='"Liberation Serif", serif' font-weight="bold" font-size="18" fill="#111">(b)</text>
<g font-family='"Liberation Sans", sans-serif' font-weight="bold" font-size="8.3" fill="#111" stroke="#111" stroke-width="0.2">
<text transform="translate(318.3,248.6) scale(1.08,1)" text-anchor="middle">Minutes</text>
<text transform="translate(320.2,508.8) scale(1.08,1)" text-anchor="middle">Minutes</text>
<text transform="translate(9.2,114.5) rotate(-90) scale(1.12,1)" text-anchor="middle">Intensity</text>
<text transform="translate(11.6,377) rotate(-90) scale(1.12,1)" text-anchor="middle">Intensity</text>
<text transform="translate(632.8,113.4) rotate(-90) scale(1.1,1)" text-anchor="middle">Relative Intensity [%]</text>
<text transform="translate(634.2,372.9) rotate(-90) scale(1.1,1)" text-anchor="middle">Relative Intensity [%]</text>
</g>
</svg></body></html>
